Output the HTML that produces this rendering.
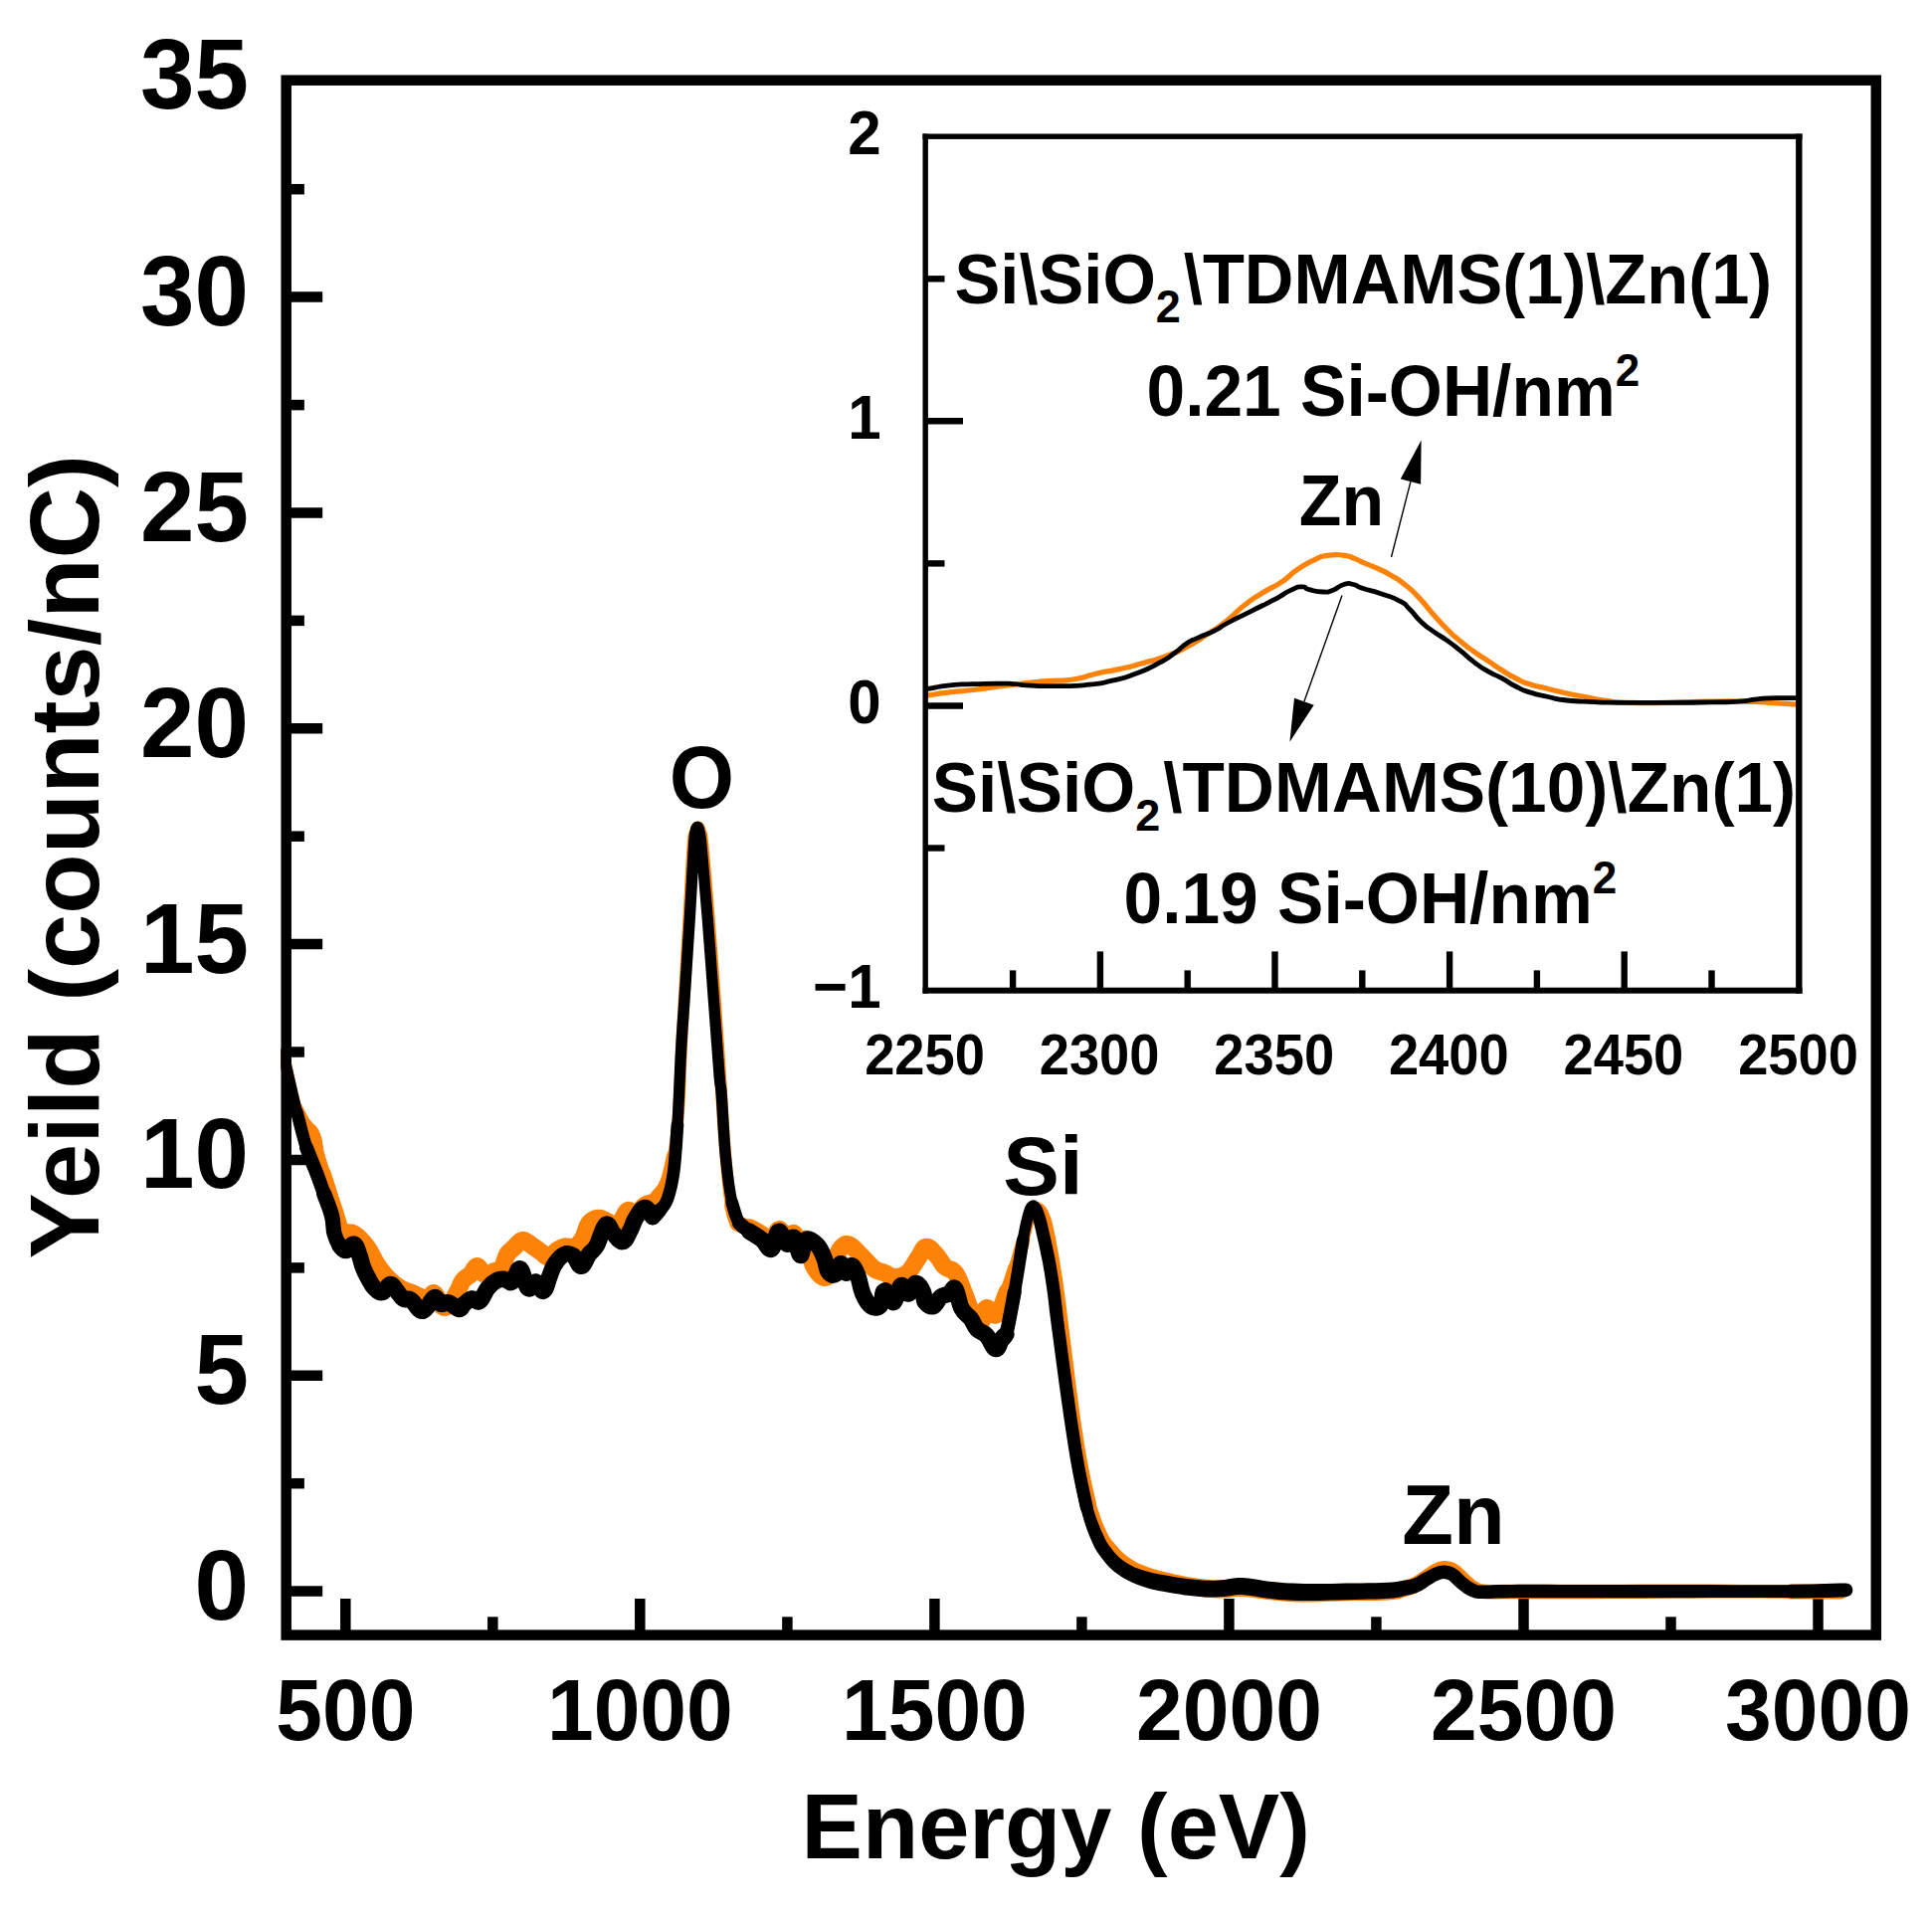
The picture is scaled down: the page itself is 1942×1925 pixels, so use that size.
<!DOCTYPE html>
<html lang="en"><head><meta charset="utf-8"><title>Yield vs Energy</title>
<style>
html,body{margin:0;padding:0;background:#fff;}
body{width:1942px;height:1925px;overflow:hidden;}
svg{display:block;}
text{font-family:"Liberation Sans",Arial,Helvetica,sans-serif;font-weight:bold;fill:#000;}
</style></head><body>
<svg width="1942" height="1925" viewBox="0 0 1942 1925">
<rect x="0" y="0" width="1942" height="1925" fill="#fff"/>
<g stroke="#000" stroke-width="10.5" fill="none">
<line x1="287.7" y1="1599.6" x2="324.2" y2="1599.6"/>
<line x1="287.7" y1="1382.8" x2="324.2" y2="1382.8"/>
<line x1="287.7" y1="1165.9" x2="324.2" y2="1165.9"/>
<line x1="287.7" y1="949.1" x2="324.2" y2="949.1"/>
<line x1="287.7" y1="732.3" x2="324.2" y2="732.3"/>
<line x1="287.7" y1="515.5" x2="324.2" y2="515.5"/>
<line x1="287.7" y1="298.6" x2="324.2" y2="298.6"/>
<line x1="287.7" y1="1491.2" x2="305.9" y2="1491.2"/>
<line x1="287.7" y1="1274.4" x2="305.9" y2="1274.4"/>
<line x1="287.7" y1="1057.5" x2="305.9" y2="1057.5"/>
<line x1="287.7" y1="840.7" x2="305.9" y2="840.7"/>
<line x1="287.7" y1="623.9" x2="305.9" y2="623.9"/>
<line x1="287.7" y1="407.1" x2="305.9" y2="407.1"/>
<line x1="287.7" y1="190.2" x2="305.9" y2="190.2"/>
<line x1="347.3" y1="1643.6" x2="347.3" y2="1607.0"/>
<line x1="643.3" y1="1643.6" x2="643.3" y2="1607.0"/>
<line x1="939.4" y1="1643.6" x2="939.4" y2="1607.0"/>
<line x1="1235.4" y1="1643.6" x2="1235.4" y2="1607.0"/>
<line x1="1531.5" y1="1643.6" x2="1531.5" y2="1607.0"/>
<line x1="1827.5" y1="1643.6" x2="1827.5" y2="1607.0"/>
<line x1="495.3" y1="1643.6" x2="495.3" y2="1625.3"/>
<line x1="791.4" y1="1643.6" x2="791.4" y2="1625.3"/>
<line x1="1087.4" y1="1643.6" x2="1087.4" y2="1625.3"/>
<line x1="1383.4" y1="1643.6" x2="1383.4" y2="1625.3"/>
<line x1="1679.5" y1="1643.6" x2="1679.5" y2="1625.3"/>
</g>
<clipPath id="mc"><rect x="282.4" y="80.7" width="1608.6" height="1562.9"/></clipPath>
<g fill="none" stroke-linejoin="round" stroke-linecap="round" clip-path="url(#mc)">
<path stroke="#FD8308" stroke-width="11.8" d="M285.0,1060.0C285.3,1061.4 284.0,1056.0 286.5,1066.8C289.0,1077.6 293.9,1101.8 297.5,1114.0C301.1,1126.2 301.8,1123.2 304.7,1127.8C307.6,1132.4 309.9,1133.5 312.2,1137.0C314.5,1140.5 314.7,1140.7 316.0,1145.3C317.3,1149.9 316.9,1153.1 318.6,1160.0C320.3,1166.9 322.5,1173.0 324.7,1180.0C326.9,1187.0 327.2,1188.0 329.5,1195.0C331.8,1202.0 332.8,1206.0 336.0,1215.0C339.2,1224.0 341.4,1235.2 345.3,1240.2C349.2,1245.2 351.0,1237.6 355.7,1240.2C360.4,1242.8 364.1,1247.0 368.8,1253.3C373.5,1259.6 375.0,1265.2 379.2,1271.5C383.4,1277.8 385.0,1279.9 389.7,1284.6C394.4,1289.3 397.5,1291.9 402.7,1295.0C407.9,1298.1 410.6,1298.2 415.8,1300.3C421.0,1302.4 424.6,1305.5 428.8,1305.5C433.0,1305.5 433.6,1298.7 436.7,1300.3C439.8,1301.9 441.4,1311.2 444.5,1313.3C447.6,1315.4 449.2,1313.8 452.3,1310.7C455.4,1307.6 457.6,1302.4 460.2,1297.7C462.8,1293.0 462.8,1290.6 465.4,1287.2C468.0,1283.8 470.3,1283.6 473.2,1280.7C476.1,1277.8 477.1,1272.8 479.7,1272.8C482.3,1272.8 482.9,1279.6 486.3,1280.7C489.7,1281.8 493.1,1279.4 496.7,1278.1C500.3,1276.8 501.9,1277.6 504.5,1274.2C507.1,1270.8 507.2,1265.3 509.8,1261.1C512.4,1256.9 514.5,1256.2 517.6,1253.3C520.7,1250.4 522.0,1247.0 525.4,1246.7C528.8,1246.4 530.9,1249.6 534.6,1252.0C538.3,1254.4 540.3,1256.2 543.7,1258.5C547.1,1260.8 548.4,1264.0 551.5,1263.7C554.6,1263.4 556.3,1259.3 559.4,1257.2C562.5,1255.1 563.6,1254.1 567.2,1253.3C570.8,1252.5 573.9,1254.9 577.6,1253.3C581.3,1251.7 582.6,1250.1 585.5,1245.4C588.4,1240.7 588.9,1234.0 592.0,1229.8C595.1,1225.6 597.7,1225.0 601.1,1224.5C604.5,1224.0 605.3,1225.6 609.0,1227.2C612.7,1228.8 616.0,1232.9 619.4,1232.4C622.8,1231.9 623.6,1227.6 626.0,1224.5C628.4,1221.4 628.3,1217.7 631.2,1216.7C634.1,1215.7 636.9,1220.3 640.3,1219.3C643.7,1218.3 645.0,1213.6 648.1,1211.5C651.2,1209.4 653.1,1211.0 656.0,1208.9C658.9,1206.8 659.6,1205.2 662.5,1201.0C665.4,1196.8 667.4,1195.8 670.3,1188.0C673.2,1180.2 674.5,1176.0 676.9,1161.9C679.3,1147.8 680.5,1139.5 682.1,1117.5C683.7,1095.5 683.8,1075.5 685.0,1052.0C686.2,1028.5 686.5,1026.4 688.0,1000.0C689.5,973.6 690.8,950.0 692.5,920.0C694.2,890.0 695.2,866.8 696.5,850.0C697.8,833.2 698.0,839.7 699.0,836.0C700.0,832.3 700.5,831.5 701.5,831.5C702.5,831.5 703.0,832.3 704.0,836.0C705.0,839.7 704.8,833.2 706.5,850.0C708.2,866.8 710.1,890.0 712.5,920.0C714.9,950.0 716.2,968.0 718.5,1000.0C720.8,1032.0 722.3,1054.0 724.0,1080.0C725.7,1106.0 725.6,1110.0 727.0,1130.0C728.4,1150.0 729.4,1163.6 731.0,1180.0C732.6,1196.4 733.0,1202.0 735.0,1212.0C737.0,1222.0 737.3,1225.6 741.0,1230.0C744.7,1234.4 748.4,1231.8 753.4,1234.0C758.4,1236.2 761.6,1237.8 766.0,1241.0C770.4,1244.2 772.1,1251.0 775.4,1250.0C778.7,1249.0 779.6,1237.0 782.7,1236.0C785.8,1235.0 787.9,1244.2 791.0,1245.0C794.1,1245.8 795.6,1238.0 798.3,1240.0C801.0,1242.0 802.3,1253.8 804.6,1255.0C806.9,1256.2 807.1,1242.5 809.8,1246.2C812.5,1249.9 814.0,1265.9 818.2,1273.4C822.4,1280.9 826.5,1285.1 830.7,1283.8C834.9,1282.5 836.2,1272.9 839.1,1267.1C842.0,1261.3 842.4,1257.7 845.3,1254.6C848.2,1251.5 849.5,1249.7 853.7,1251.4C857.9,1253.1 861.2,1258.1 866.2,1262.9C871.2,1267.7 874.1,1272.2 878.7,1275.5C883.3,1278.8 885.0,1277.9 889.2,1279.6C893.4,1281.3 895.0,1283.8 899.6,1283.8C904.2,1283.8 907.6,1283.4 912.2,1279.6C916.8,1275.8 918.8,1270.2 922.6,1265.0C926.4,1259.8 927.2,1254.1 931.0,1253.5C934.8,1252.9 937.6,1257.9 941.4,1261.9C945.2,1265.9 946.0,1269.9 949.8,1273.4C953.6,1276.9 956.4,1274.6 960.2,1279.6C964.0,1284.6 965.3,1290.5 968.6,1298.4C971.9,1306.3 973.6,1313.0 976.9,1319.3C980.2,1325.6 982.4,1330.6 985.3,1329.8C988.2,1329.0 988.2,1316.8 991.5,1315.1C994.8,1313.4 997.8,1324.7 1002.0,1321.4C1006.2,1318.1 1008.8,1307.6 1012.5,1298.4C1016.2,1289.2 1017.2,1285.2 1020.3,1275.5C1023.4,1265.8 1025.1,1259.9 1027.8,1250.0C1030.5,1240.1 1031.9,1232.7 1034.0,1226.0C1036.1,1219.3 1036.9,1218.7 1038.5,1216.5C1040.1,1214.3 1040.6,1214.8 1042.0,1215.0C1043.4,1215.2 1044.0,1215.3 1045.5,1217.5C1047.0,1219.7 1048.0,1221.5 1049.5,1226.0C1051.0,1230.5 1051.2,1231.2 1053.0,1240.0C1054.8,1248.8 1056.5,1258.0 1058.5,1270.0C1060.5,1282.0 1061.3,1287.6 1063.0,1300.0C1064.7,1312.4 1064.7,1313.6 1067.0,1332.0C1069.3,1350.4 1071.8,1371.2 1074.5,1392.0C1077.2,1412.8 1078.0,1419.4 1080.5,1436.0C1083.0,1452.6 1084.1,1459.8 1087.0,1475.0C1089.9,1490.2 1091.4,1498.8 1095.0,1512.0C1098.6,1525.2 1100.8,1531.8 1105.0,1541.0C1109.2,1550.2 1110.8,1551.7 1116.0,1558.0C1121.2,1564.3 1123.8,1567.4 1131.0,1572.5C1138.2,1577.6 1142.4,1579.8 1152.0,1583.5C1161.6,1587.2 1168.0,1588.5 1179.0,1591.0C1190.0,1593.5 1197.3,1594.7 1207.1,1596.0C1216.9,1597.3 1219.6,1597.5 1228.0,1597.5C1236.4,1597.5 1238.5,1595.6 1248.9,1596.0C1259.3,1596.4 1267.7,1598.4 1280.2,1599.5C1292.7,1600.6 1296.9,1601.3 1311.5,1601.5C1326.1,1601.7 1336.6,1600.8 1353.3,1600.5C1370.0,1600.2 1383.6,1600.7 1395.1,1600.0C1406.6,1599.3 1405.3,1598.5 1411.0,1597.0C1416.7,1595.5 1418.8,1594.9 1423.5,1592.5C1428.2,1590.1 1430.0,1587.9 1434.3,1585.0C1438.6,1582.1 1441.4,1579.7 1445.2,1578.0C1449.0,1576.3 1450.1,1576.2 1453.5,1576.5C1456.9,1576.8 1458.4,1577.1 1462.0,1579.5C1465.6,1581.9 1467.4,1585.0 1471.5,1588.5C1475.6,1592.0 1478.2,1594.7 1482.5,1597.0C1486.8,1599.3 1485.5,1599.4 1493.0,1600.0C1500.5,1600.6 1498.4,1600.0 1519.8,1600.0C1541.2,1600.0 1564.0,1600.1 1600.0,1600.0C1636.0,1599.9 1660.0,1599.5 1700.0,1599.5C1740.0,1599.5 1770.0,1599.9 1800.0,1600.0C1830.0,1600.1 1840.0,1600.0 1850.0,1600.0"/>
<path stroke="#FD8308" stroke-width="13.7" d="M297.5,1114.0C298.9,1116.8 301.8,1123.2 304.7,1127.8C307.6,1132.4 309.9,1133.5 312.2,1137.0C314.5,1140.5 314.7,1140.7 316.0,1145.3C317.3,1149.9 316.9,1153.1 318.6,1160.0C320.3,1166.9 322.5,1173.0 324.7,1180.0C326.9,1187.0 327.2,1188.0 329.5,1195.0C331.8,1202.0 332.8,1206.0 336.0,1215.0C339.2,1224.0 341.4,1235.2 345.3,1240.2C349.2,1245.2 351.0,1237.6 355.7,1240.2C360.4,1242.8 364.1,1247.0 368.8,1253.3C373.5,1259.6 375.0,1265.2 379.2,1271.5C383.4,1277.8 385.0,1279.9 389.7,1284.6C394.4,1289.3 397.5,1291.9 402.7,1295.0C407.9,1298.1 410.6,1298.2 415.8,1300.3C421.0,1302.4 424.6,1305.5 428.8,1305.5C433.0,1305.5 433.6,1298.7 436.7,1300.3C439.8,1301.9 441.4,1311.2 444.5,1313.3C447.6,1315.4 449.2,1313.8 452.3,1310.7C455.4,1307.6 457.6,1302.4 460.2,1297.7C462.8,1293.0 462.8,1290.6 465.4,1287.2C468.0,1283.8 470.3,1283.6 473.2,1280.7C476.1,1277.8 477.1,1272.8 479.7,1272.8C482.3,1272.8 482.9,1279.6 486.3,1280.7C489.7,1281.8 493.1,1279.4 496.7,1278.1C500.3,1276.8 501.9,1277.6 504.5,1274.2C507.1,1270.8 507.2,1265.3 509.8,1261.1C512.4,1256.9 514.5,1256.2 517.6,1253.3C520.7,1250.4 522.0,1247.0 525.4,1246.7C528.8,1246.4 530.9,1249.6 534.6,1252.0C538.3,1254.4 540.3,1256.2 543.7,1258.5C547.1,1260.8 548.4,1264.0 551.5,1263.7C554.6,1263.4 556.3,1259.3 559.4,1257.2C562.5,1255.1 563.6,1254.1 567.2,1253.3C570.8,1252.5 573.9,1254.9 577.6,1253.3C581.3,1251.7 582.6,1250.1 585.5,1245.4C588.4,1240.7 588.9,1234.0 592.0,1229.8C595.1,1225.6 597.7,1225.0 601.1,1224.5C604.5,1224.0 605.3,1225.6 609.0,1227.2C612.7,1228.8 616.0,1232.9 619.4,1232.4C622.8,1231.9 623.6,1227.6 626.0,1224.5C628.4,1221.4 628.3,1217.7 631.2,1216.7C634.1,1215.7 636.9,1220.3 640.3,1219.3C643.7,1218.3 645.0,1213.6 648.1,1211.5C651.2,1209.4 653.1,1211.0 656.0,1208.9C658.9,1206.8 659.6,1205.2 662.5,1201.0C665.4,1196.8 667.4,1195.8 670.3,1188.0C673.2,1180.2 675.6,1167.1 676.9,1161.9"/>
<path stroke="#FD8308" stroke-width="15.0" d="M312.2,1137.0C313.0,1138.7 314.7,1140.7 316.0,1145.3C317.3,1149.9 316.9,1153.1 318.6,1160.0C320.3,1166.9 322.5,1173.0 324.7,1180.0C326.9,1187.0 327.2,1188.0 329.5,1195.0C331.8,1202.0 332.8,1206.0 336.0,1215.0C339.2,1224.0 341.4,1235.2 345.3,1240.2C349.2,1245.2 351.0,1237.6 355.7,1240.2C360.4,1242.8 364.1,1247.0 368.8,1253.3C373.5,1259.6 375.0,1265.2 379.2,1271.5C383.4,1277.8 385.0,1279.9 389.7,1284.6C394.4,1289.3 397.5,1291.9 402.7,1295.0C407.9,1298.1 410.6,1298.2 415.8,1300.3C421.0,1302.4 424.6,1305.5 428.8,1305.5C433.0,1305.5 433.6,1298.7 436.7,1300.3C439.8,1301.9 441.4,1311.2 444.5,1313.3C447.6,1315.4 449.2,1313.8 452.3,1310.7C455.4,1307.6 457.6,1302.4 460.2,1297.7C462.8,1293.0 462.8,1290.6 465.4,1287.2C468.0,1283.8 470.3,1283.6 473.2,1280.7C476.1,1277.8 477.1,1272.8 479.7,1272.8C482.3,1272.8 482.9,1279.6 486.3,1280.7C489.7,1281.8 493.1,1279.4 496.7,1278.1C500.3,1276.8 501.9,1277.6 504.5,1274.2C507.1,1270.8 507.2,1265.3 509.8,1261.1C512.4,1256.9 514.5,1256.2 517.6,1253.3C520.7,1250.4 522.0,1247.0 525.4,1246.7C528.8,1246.4 530.9,1249.6 534.6,1252.0C538.3,1254.4 540.3,1256.2 543.7,1258.5C547.1,1260.8 548.4,1264.0 551.5,1263.7C554.6,1263.4 556.3,1259.3 559.4,1257.2C562.5,1255.1 563.6,1254.1 567.2,1253.3C570.8,1252.5 573.9,1254.9 577.6,1253.3C581.3,1251.7 582.6,1250.1 585.5,1245.4C588.4,1240.7 588.9,1234.0 592.0,1229.8C595.1,1225.6 597.7,1225.0 601.1,1224.5C604.5,1224.0 605.3,1225.6 609.0,1227.2C612.7,1228.8 616.0,1232.9 619.4,1232.4C622.8,1231.9 623.6,1227.6 626.0,1224.5C628.4,1221.4 628.3,1217.7 631.2,1216.7C634.1,1215.7 636.9,1220.3 640.3,1219.3C643.7,1218.3 645.0,1213.6 648.1,1211.5C651.2,1209.4 653.1,1211.0 656.0,1208.9C658.9,1206.8 661.2,1202.6 662.5,1201.0"/>
<path stroke="#FD8308" stroke-width="16.3" d="M324.7,1180.0C325.7,1183.0 327.2,1188.0 329.5,1195.0C331.8,1202.0 332.8,1206.0 336.0,1215.0C339.2,1224.0 341.4,1235.2 345.3,1240.2C349.2,1245.2 351.0,1237.6 355.7,1240.2C360.4,1242.8 364.1,1247.0 368.8,1253.3C373.5,1259.6 375.0,1265.2 379.2,1271.5C383.4,1277.8 385.0,1279.9 389.7,1284.6C394.4,1289.3 397.5,1291.9 402.7,1295.0C407.9,1298.1 410.6,1298.2 415.8,1300.3C421.0,1302.4 424.6,1305.5 428.8,1305.5C433.0,1305.5 433.6,1298.7 436.7,1300.3C439.8,1301.9 441.4,1311.2 444.5,1313.3C447.6,1315.4 449.2,1313.8 452.3,1310.7C455.4,1307.6 457.6,1302.4 460.2,1297.7C462.8,1293.0 462.8,1290.6 465.4,1287.2C468.0,1283.8 470.3,1283.6 473.2,1280.7C476.1,1277.8 477.1,1272.8 479.7,1272.8C482.3,1272.8 482.9,1279.6 486.3,1280.7C489.7,1281.8 493.1,1279.4 496.7,1278.1C500.3,1276.8 501.9,1277.6 504.5,1274.2C507.1,1270.8 507.2,1265.3 509.8,1261.1C512.4,1256.9 514.5,1256.2 517.6,1253.3C520.7,1250.4 522.0,1247.0 525.4,1246.7C528.8,1246.4 530.9,1249.6 534.6,1252.0C538.3,1254.4 540.3,1256.2 543.7,1258.5C547.1,1260.8 548.4,1264.0 551.5,1263.7C554.6,1263.4 556.3,1259.3 559.4,1257.2C562.5,1255.1 563.6,1254.1 567.2,1253.3C570.8,1252.5 573.9,1254.9 577.6,1253.3C581.3,1251.7 582.6,1250.1 585.5,1245.4C588.4,1240.7 588.9,1234.0 592.0,1229.8C595.1,1225.6 597.7,1225.0 601.1,1224.5C604.5,1224.0 605.3,1225.6 609.0,1227.2C612.7,1228.8 616.0,1232.9 619.4,1232.4C622.8,1231.9 623.6,1227.6 626.0,1224.5C628.4,1221.4 628.3,1217.7 631.2,1216.7C634.1,1215.7 636.9,1220.3 640.3,1219.3C643.7,1218.3 645.0,1213.6 648.1,1211.5C651.2,1209.4 654.4,1209.4 656.0,1208.9"/>
<path stroke="#FD8308" stroke-width="17.6" d="M345.3,1240.2C347.4,1240.2 351.0,1237.6 355.7,1240.2C360.4,1242.8 364.1,1247.0 368.8,1253.3C373.5,1259.6 375.0,1265.2 379.2,1271.5C383.4,1277.8 385.0,1279.9 389.7,1284.6C394.4,1289.3 397.5,1291.9 402.7,1295.0C407.9,1298.1 410.6,1298.2 415.8,1300.3C421.0,1302.4 424.6,1305.5 428.8,1305.5C433.0,1305.5 433.6,1298.7 436.7,1300.3C439.8,1301.9 441.4,1311.2 444.5,1313.3C447.6,1315.4 449.2,1313.8 452.3,1310.7C455.4,1307.6 457.6,1302.4 460.2,1297.7C462.8,1293.0 462.8,1290.6 465.4,1287.2C468.0,1283.8 470.3,1283.6 473.2,1280.7C476.1,1277.8 477.1,1272.8 479.7,1272.8C482.3,1272.8 482.9,1279.6 486.3,1280.7C489.7,1281.8 493.1,1279.4 496.7,1278.1C500.3,1276.8 501.9,1277.6 504.5,1274.2C507.1,1270.8 507.2,1265.3 509.8,1261.1C512.4,1256.9 514.5,1256.2 517.6,1253.3C520.7,1250.4 522.0,1247.0 525.4,1246.7C528.8,1246.4 530.9,1249.6 534.6,1252.0C538.3,1254.4 540.3,1256.2 543.7,1258.5C547.1,1260.8 548.4,1264.0 551.5,1263.7C554.6,1263.4 556.3,1259.3 559.4,1257.2C562.5,1255.1 563.6,1254.1 567.2,1253.3C570.8,1252.5 573.9,1254.9 577.6,1253.3C581.3,1251.7 582.6,1250.1 585.5,1245.4C588.4,1240.7 588.9,1234.0 592.0,1229.8C595.1,1225.6 597.7,1225.0 601.1,1224.5C604.5,1224.0 605.3,1225.6 609.0,1227.2C612.7,1228.8 616.0,1232.9 619.4,1232.4C622.8,1231.9 623.6,1227.6 626.0,1224.5C628.4,1221.4 628.3,1217.7 631.2,1216.7C634.1,1215.7 636.9,1220.3 640.3,1219.3C643.7,1218.3 645.0,1213.6 648.1,1211.5C651.2,1209.4 654.4,1209.4 656.0,1208.9"/>
<path stroke="#FD8308" stroke-width="13.7" d="M735.0,1212.0C736.2,1215.6 737.3,1225.6 741.0,1230.0C744.7,1234.4 748.4,1231.8 753.4,1234.0C758.4,1236.2 761.6,1237.8 766.0,1241.0C770.4,1244.2 772.1,1251.0 775.4,1250.0C778.7,1249.0 779.6,1237.0 782.7,1236.0C785.8,1235.0 787.9,1244.2 791.0,1245.0C794.1,1245.8 795.6,1238.0 798.3,1240.0C801.0,1242.0 802.3,1253.8 804.6,1255.0C806.9,1256.2 807.1,1242.5 809.8,1246.2C812.5,1249.9 814.0,1265.9 818.2,1273.4C822.4,1280.9 826.5,1285.1 830.7,1283.8C834.9,1282.5 836.2,1272.9 839.1,1267.1C842.0,1261.3 842.4,1257.7 845.3,1254.6C848.2,1251.5 849.5,1249.7 853.7,1251.4C857.9,1253.1 861.2,1258.1 866.2,1262.9C871.2,1267.7 874.1,1272.2 878.7,1275.5C883.3,1278.8 885.0,1277.9 889.2,1279.6C893.4,1281.3 895.0,1283.8 899.6,1283.8C904.2,1283.8 907.6,1283.4 912.2,1279.6C916.8,1275.8 918.8,1270.2 922.6,1265.0C926.4,1259.8 927.2,1254.1 931.0,1253.5C934.8,1252.9 937.6,1257.9 941.4,1261.9C945.2,1265.9 946.0,1269.9 949.8,1273.4C953.6,1276.9 956.4,1274.6 960.2,1279.6C964.0,1284.6 965.3,1290.5 968.6,1298.4C971.9,1306.3 973.6,1313.0 976.9,1319.3C980.2,1325.6 982.4,1330.6 985.3,1329.8C988.2,1329.0 988.2,1316.8 991.5,1315.1C994.8,1313.4 997.8,1324.7 1002.0,1321.4C1006.2,1318.1 1008.8,1307.6 1012.5,1298.4C1016.2,1289.2 1017.2,1285.2 1020.3,1275.5C1023.4,1265.8 1026.3,1255.1 1027.8,1250.0"/>
<path stroke="#FD8308" stroke-width="15.0" d="M741.0,1230.0C743.5,1230.8 748.4,1231.8 753.4,1234.0C758.4,1236.2 761.6,1237.8 766.0,1241.0C770.4,1244.2 772.1,1251.0 775.4,1250.0C778.7,1249.0 779.6,1237.0 782.7,1236.0C785.8,1235.0 787.9,1244.2 791.0,1245.0C794.1,1245.8 795.6,1238.0 798.3,1240.0C801.0,1242.0 802.3,1253.8 804.6,1255.0C806.9,1256.2 807.1,1242.5 809.8,1246.2C812.5,1249.9 814.0,1265.9 818.2,1273.4C822.4,1280.9 826.5,1285.1 830.7,1283.8C834.9,1282.5 836.2,1272.9 839.1,1267.1C842.0,1261.3 842.4,1257.7 845.3,1254.6C848.2,1251.5 849.5,1249.7 853.7,1251.4C857.9,1253.1 861.2,1258.1 866.2,1262.9C871.2,1267.7 874.1,1272.2 878.7,1275.5C883.3,1278.8 885.0,1277.9 889.2,1279.6C893.4,1281.3 895.0,1283.8 899.6,1283.8C904.2,1283.8 907.6,1283.4 912.2,1279.6C916.8,1275.8 918.8,1270.2 922.6,1265.0C926.4,1259.8 927.2,1254.1 931.0,1253.5C934.8,1252.9 937.6,1257.9 941.4,1261.9C945.2,1265.9 946.0,1269.9 949.8,1273.4C953.6,1276.9 956.4,1274.6 960.2,1279.6C964.0,1284.6 965.3,1290.5 968.6,1298.4C971.9,1306.3 973.6,1313.0 976.9,1319.3C980.2,1325.6 982.4,1330.6 985.3,1329.8C988.2,1329.0 988.2,1316.8 991.5,1315.1C994.8,1313.4 997.8,1324.7 1002.0,1321.4C1006.2,1318.1 1008.8,1307.6 1012.5,1298.4C1016.2,1289.2 1018.7,1280.1 1020.3,1275.5"/>
<path stroke="#FD8308" stroke-width="16.3" d="M753.4,1234.0C755.9,1235.4 761.6,1237.8 766.0,1241.0C770.4,1244.2 772.1,1251.0 775.4,1250.0C778.7,1249.0 779.6,1237.0 782.7,1236.0C785.8,1235.0 787.9,1244.2 791.0,1245.0C794.1,1245.8 795.6,1238.0 798.3,1240.0C801.0,1242.0 802.3,1253.8 804.6,1255.0C806.9,1256.2 807.1,1242.5 809.8,1246.2C812.5,1249.9 814.0,1265.9 818.2,1273.4C822.4,1280.9 826.5,1285.1 830.7,1283.8C834.9,1282.5 836.2,1272.9 839.1,1267.1C842.0,1261.3 842.4,1257.7 845.3,1254.6C848.2,1251.5 849.5,1249.7 853.7,1251.4C857.9,1253.1 861.2,1258.1 866.2,1262.9C871.2,1267.7 874.1,1272.2 878.7,1275.5C883.3,1278.8 885.0,1277.9 889.2,1279.6C893.4,1281.3 895.0,1283.8 899.6,1283.8C904.2,1283.8 907.6,1283.4 912.2,1279.6C916.8,1275.8 918.8,1270.2 922.6,1265.0C926.4,1259.8 927.2,1254.1 931.0,1253.5C934.8,1252.9 937.6,1257.9 941.4,1261.9C945.2,1265.9 946.0,1269.9 949.8,1273.4C953.6,1276.9 956.4,1274.6 960.2,1279.6C964.0,1284.6 965.3,1290.5 968.6,1298.4C971.9,1306.3 973.6,1313.0 976.9,1319.3C980.2,1325.6 982.4,1330.6 985.3,1329.8C988.2,1329.0 988.2,1316.8 991.5,1315.1C994.8,1313.4 997.8,1324.7 1002.0,1321.4C1006.2,1318.1 1010.4,1303.0 1012.5,1298.4"/>
<path stroke="#FD8308" stroke-width="17.6" d="M753.4,1234.0C755.9,1235.4 761.6,1237.8 766.0,1241.0C770.4,1244.2 772.1,1251.0 775.4,1250.0C778.7,1249.0 779.6,1237.0 782.7,1236.0C785.8,1235.0 787.9,1244.2 791.0,1245.0C794.1,1245.8 795.6,1238.0 798.3,1240.0C801.0,1242.0 802.3,1253.8 804.6,1255.0C806.9,1256.2 807.1,1242.5 809.8,1246.2C812.5,1249.9 814.0,1265.9 818.2,1273.4C822.4,1280.9 826.5,1285.1 830.7,1283.8C834.9,1282.5 836.2,1272.9 839.1,1267.1C842.0,1261.3 842.4,1257.7 845.3,1254.6C848.2,1251.5 849.5,1249.7 853.7,1251.4C857.9,1253.1 861.2,1258.1 866.2,1262.9C871.2,1267.7 874.1,1272.2 878.7,1275.5C883.3,1278.8 885.0,1277.9 889.2,1279.6C893.4,1281.3 895.0,1283.8 899.6,1283.8C904.2,1283.8 907.6,1283.4 912.2,1279.6C916.8,1275.8 918.8,1270.2 922.6,1265.0C926.4,1259.8 927.2,1254.1 931.0,1253.5C934.8,1252.9 937.6,1257.9 941.4,1261.9C945.2,1265.9 946.0,1269.9 949.8,1273.4C953.6,1276.9 956.4,1274.6 960.2,1279.6C964.0,1284.6 965.3,1290.5 968.6,1298.4C971.9,1306.3 973.6,1313.0 976.9,1319.3C980.2,1325.6 982.4,1330.6 985.3,1329.8C988.2,1329.0 988.2,1316.8 991.5,1315.1C994.8,1313.4 997.8,1324.7 1002.0,1321.4C1006.2,1318.1 1010.4,1303.0 1012.5,1298.4"/>
<path stroke="#FD8308" stroke-width="14.0" d="M1042.0,1215.0C1042.7,1215.5 1044.0,1215.3 1045.5,1217.5C1047.0,1219.7 1048.0,1221.5 1049.5,1226.0C1051.0,1230.5 1051.2,1231.2 1053.0,1240.0C1054.8,1248.8 1056.5,1258.0 1058.5,1270.0C1060.5,1282.0 1061.3,1287.6 1063.0,1300.0C1064.7,1312.4 1064.7,1313.6 1067.0,1332.0C1069.3,1350.4 1071.8,1371.2 1074.5,1392.0C1077.2,1412.8 1078.0,1419.4 1080.5,1436.0C1083.0,1452.6 1084.1,1459.8 1087.0,1475.0C1089.9,1490.2 1093.4,1504.6 1095.0,1512.0"/>
<path stroke="#FD8308" stroke-width="14.8" d="M1800.0,1600.0C1810.0,1600.0 1840.0,1600.0 1850.0,1600.0"/>
<path fill="#FD8308" stroke="none" d="M1079.6,1469.1L1080.8,1476.2L1082.1,1483.3L1083.3,1489.7L1084.4,1495.6L1085.6,1501.4L1086.9,1507.3L1088.5,1513.8L1090.2,1520.0L1091.7,1525.4L1093.2,1530.3L1094.8,1534.8L1096.5,1539.3L1098.5,1544.0L1100.5,1548.2L1102.3,1551.7L1104.1,1554.7L1106.0,1557.3L1108.0,1559.8L1110.3,1562.7L1112.7,1565.7L1115.0,1568.5L1117.4,1571.1L1120.0,1573.6L1123.0,1576.2L1126.5,1578.8L1130.1,1581.4L1133.4,1583.6L1136.9,1585.7L1140.5,1587.5L1144.5,1589.4L1149.0,1591.3L1153.8,1593.2L1158.3,1594.8L1162.7,1596.2L1167.2,1597.3L1171.9,1598.4L1177.1,1599.6L1182.4,1600.8L1187.3,1601.8L1192.0,1602.6L1196.5,1603.4L1201.1,1604.1L1205.9,1604.8L1210.4,1605.4L1214.1,1605.8L1217.5,1606.1L1220.7,1606.3L1224.1,1606.4L1228.1,1606.4L1232.4,1606.3L1235.9,1605.9L1238.9,1605.5L1241.5,1605.1L1244.5,1604.9L1248.6,1605.0L1253.2,1605.3L1257.8,1605.8L1262.6,1606.4L1267.6,1607.1L1273.2,1607.9L1279.3,1608.5L1285.0,1609.0L1289.8,1609.5L1294.4,1609.9L1299.2,1610.2L1304.7,1610.4L1311.4,1610.5L1318.6,1610.5L1325.3,1610.3L1331.9,1610.1L1338.6,1609.8L1345.7,1609.5L1353.5,1609.3L1361.5,1609.1L1369.0,1609.1L1376.2,1609.0L1382.9,1609.0L1389.4,1608.8L1395.6,1608.5L1400.7,1608.1L1404.4,1607.6L1407.3,1606.9L1409.5,1606.2L1411.1,1605.6L1413.2,1604.9L1415.7,1604.1L1418.0,1603.4L1420.3,1602.6L1422.5,1601.7L1424.7,1600.7L1427.1,1599.4L1429.6,1597.9L1431.8,1596.4L1433.6,1595.0L1435.2,1593.7L1436.7,1592.5L1438.5,1591.1L1440.6,1589.6L1442.4,1588.2L1444.0,1587.0L1445.5,1586.1L1446.8,1585.3L1448.2,1584.6L1449.5,1584.0L1450.4,1583.7L1450.8,1583.6L1451.0,1583.6L1451.7,1583.6L1452.9,1583.7L1454.1,1583.8L1454.9,1584.0L1455.4,1584.1L1455.9,1584.3L1456.7,1584.7L1457.9,1585.5L1459.0,1586.3L1460.1,1587.3L1461.3,1588.6L1462.8,1590.2L1464.6,1592.0L1466.7,1593.9L1468.7,1595.6L1470.5,1597.2L1472.3,1598.8L1474.3,1600.4L1476.6,1601.9L1478.9,1603.3L1480.7,1604.3L1482.2,1605.1L1484.3,1606.0L1486.7,1606.6L1489.2,1606.9L1492.4,1607.2L1495.7,1607.4L1498.5,1607.5L1501.3,1607.5L1505.1,1607.4L1511.0,1607.3L1519.8,1607.2L1530.7,1607.2L1542.1,1607.2L1554.4,1607.2L1567.9,1607.2L1583.0,1607.2L1600.0,1607.2L1617.2,1607.1L1633.1,1607.0L1648.6,1606.9L1664.3,1606.7L1681.2,1606.6L1700.0,1606.6L1719.2,1606.5L1737.0,1606.5L1753.7,1606.5L1769.6,1606.6L1784.9,1606.8L1800.0,1606.8L1813.4,1606.9L1824.1,1606.9L1832.5,1606.9L1839.3,1606.9L1844.9,1606.9L1844.9,1593.1L1839.2,1593.1L1832.5,1593.2L1824.1,1593.2L1813.4,1593.2L1800.0,1593.2L1785.0,1593.1L1769.7,1593.0L1753.8,1592.9L1737.1,1592.7L1719.2,1592.5L1700.0,1592.4L1681.2,1592.4L1664.3,1592.5L1648.5,1592.6L1633.0,1592.7L1617.1,1592.8L1600.0,1592.8L1583.0,1592.8L1567.9,1592.8L1554.4,1592.8L1542.1,1592.8L1530.7,1592.8L1519.8,1592.8L1510.8,1592.8L1504.9,1592.9L1501.0,1593.0L1498.5,1593.0L1496.4,1593.0L1493.6,1592.8L1490.7,1592.5L1489.2,1592.3L1488.8,1592.2L1488.7,1592.2L1487.8,1591.7L1486.1,1590.7L1484.4,1589.7L1482.9,1588.7L1481.5,1587.6L1480.0,1586.3L1478.2,1584.7L1476.3,1583.1L1474.7,1581.6L1473.3,1580.1L1471.8,1578.6L1470.2,1576.9L1468.3,1575.2L1466.1,1573.5L1464.0,1572.2L1462.0,1571.1L1459.9,1570.3L1457.9,1569.8L1456.0,1569.5L1454.1,1569.3L1452.3,1569.1L1450.4,1569.1L1448.3,1569.4L1446.2,1569.8L1444.3,1570.5L1442.2,1571.4L1439.9,1572.5L1437.8,1573.8L1435.8,1575.1L1434.0,1576.3L1432.1,1577.5L1430.1,1578.9L1427.9,1580.3L1426.0,1581.7L1424.4,1582.9L1423.0,1583.8L1421.6,1584.7L1419.9,1585.6L1418.0,1586.4L1416.4,1587.1L1415.0,1587.6L1413.4,1588.0L1411.4,1588.5L1408.8,1589.1L1406.2,1589.8L1404.4,1590.4L1403.2,1590.7L1401.8,1590.9L1399.1,1591.2L1394.6,1591.5L1388.9,1591.7L1382.8,1591.8L1376.1,1591.8L1369.0,1591.7L1361.3,1591.7L1353.1,1591.7L1345.2,1591.9L1338.0,1592.1L1331.3,1592.3L1324.9,1592.4L1318.4,1592.5L1311.6,1592.5L1305.3,1592.3L1300.1,1592.1L1295.7,1591.8L1291.4,1591.4L1286.7,1591.0L1281.1,1590.5L1275.3,1589.9L1270.0,1589.3L1265.0,1588.6L1259.9,1587.9L1254.7,1587.4L1249.2,1587.0L1244.1,1587.0L1239.9,1587.3L1236.4,1587.7L1233.7,1588.2L1231.1,1588.5L1227.9,1588.6L1224.4,1588.6L1221.4,1588.5L1218.7,1588.4L1215.9,1588.1L1212.5,1587.8L1208.3,1587.2L1203.6,1586.6L1199.3,1586.0L1195.0,1585.3L1190.7,1584.5L1186.1,1583.5L1180.9,1582.4L1175.8,1581.3L1171.3,1580.2L1167.2,1579.2L1163.3,1578.3L1159.3,1577.1L1155.0,1575.7L1150.8,1574.1L1147.3,1572.7L1144.3,1571.4L1141.6,1570.0L1138.7,1568.3L1135.5,1566.2L1132.5,1564.0L1130.1,1562.1L1128.1,1560.3L1126.2,1558.4L1124.1,1556.1L1121.7,1553.3L1119.4,1550.5L1117.5,1548.4L1116.1,1546.5L1114.8,1544.5L1113.3,1541.8L1111.5,1538.0L1109.6,1533.8L1107.9,1529.8L1106.4,1525.7L1104.9,1521.3L1103.2,1516.2L1101.5,1510.2L1099.8,1504.1L1098.4,1498.5L1097.1,1492.9L1095.9,1487.2L1094.6,1480.9L1093.2,1473.8L1091.8,1466.8Z"/>
<path stroke="#000" stroke-width="11.3" d="M285.0,1060.0C285.3,1061.4 283.8,1055.1 286.5,1066.8C289.2,1078.5 294.3,1101.2 298.6,1118.6C302.9,1136.0 304.0,1141.4 308.0,1153.7C312.0,1166.0 315.0,1170.7 318.5,1180.0C322.0,1189.3 322.7,1191.6 325.7,1200.0C328.7,1208.4 331.4,1214.0 333.5,1222.0C335.6,1230.0 334.4,1234.0 336.0,1240.0C337.6,1246.0 339.0,1248.6 341.4,1252.0C343.8,1255.4 345.0,1257.3 347.9,1257.0C350.8,1256.7 353.1,1249.8 355.7,1250.6C358.3,1251.4 359.2,1256.3 361.0,1261.0C362.8,1265.7 363.1,1269.3 364.9,1274.0C366.7,1278.7 367.7,1280.4 370.0,1284.6C372.3,1288.8 373.7,1292.1 376.6,1295.0C379.5,1297.9 381.3,1299.8 384.4,1299.0C387.5,1298.2 389.4,1291.3 392.3,1291.0C395.2,1290.7 396.2,1294.7 398.8,1297.6C401.4,1300.5 402.4,1303.7 405.3,1305.5C408.2,1307.3 409.8,1304.5 413.2,1306.8C416.6,1309.1 419.2,1315.6 422.3,1317.2C425.4,1318.8 425.9,1317.2 428.8,1314.6C431.7,1312.0 433.8,1305.0 436.7,1304.2C439.6,1303.4 440.3,1309.7 443.2,1310.7C446.1,1311.7 447.3,1308.4 451.0,1309.4C454.7,1310.4 458.4,1315.6 461.5,1315.9C464.6,1316.2 464.1,1312.8 466.7,1310.7C469.3,1308.6 471.4,1306.0 474.5,1305.5C477.6,1305.0 479.2,1310.1 482.3,1308.0C485.4,1305.9 486.8,1299.2 490.2,1295.0C493.6,1290.8 495.9,1289.0 499.3,1287.2C502.7,1285.4 504.1,1285.6 507.2,1285.9C510.3,1286.2 511.9,1290.6 515.0,1288.5C518.1,1286.4 519.7,1274.2 522.8,1275.5C525.9,1276.8 527.6,1292.4 530.7,1295.0C533.8,1297.6 535.4,1288.0 538.5,1288.5C541.6,1289.0 543.4,1298.9 546.3,1297.6C549.2,1296.3 550.5,1287.5 552.8,1282.0C555.1,1276.5 555.1,1274.4 558.0,1270.2C560.9,1266.0 563.5,1262.6 567.2,1261.0C570.9,1259.4 572.9,1260.0 576.3,1262.4C579.7,1264.8 581.1,1273.1 584.2,1272.8C587.3,1272.5 588.9,1265.2 592.0,1261.0C595.1,1256.8 596.4,1258.0 599.8,1252.0C603.2,1246.0 605.6,1233.4 609.0,1231.0C612.4,1228.6 613.4,1236.8 616.8,1240.2C620.2,1243.6 622.6,1248.8 626.0,1248.0C629.4,1247.2 631.2,1241.0 633.8,1236.3C636.4,1231.6 636.1,1229.0 639.0,1224.5C641.9,1220.0 644.7,1214.3 648.1,1214.0C651.5,1213.7 652.9,1222.8 656.0,1223.2C659.1,1223.6 660.8,1219.6 663.8,1216.0C666.8,1212.4 668.3,1212.7 671.0,1205.0C673.7,1197.3 675.2,1192.4 677.2,1177.5C679.2,1162.6 679.5,1155.6 681.0,1130.5C682.5,1105.4 683.3,1078.1 684.8,1052.0C686.3,1025.9 686.6,1026.4 688.3,1000.0C690.0,973.6 691.7,950.0 693.5,920.0C695.3,890.0 696.4,866.8 697.5,850.0C698.6,833.2 698.3,839.7 699.0,836.0C699.7,832.3 700.2,831.5 701.0,831.5C701.8,831.5 702.2,832.3 703.0,836.0C703.8,839.7 703.4,833.2 705.0,850.0C706.6,866.8 708.6,890.0 711.0,920.0C713.4,950.0 714.6,968.0 717.0,1000.0C719.4,1032.0 721.4,1060.0 723.0,1080.0C724.6,1100.0 723.9,1083.5 725.2,1100.0C726.5,1116.5 727.3,1141.0 729.4,1162.7C731.5,1184.4 733.0,1195.2 735.7,1208.6C738.4,1222.0 739.5,1223.6 743.0,1229.5C746.5,1235.4 748.8,1234.6 753.4,1237.9C758.0,1241.2 761.6,1242.7 766.0,1246.2C770.4,1249.7 772.1,1257.3 775.4,1255.6C778.7,1253.9 779.6,1238.9 782.7,1237.9C785.8,1236.9 787.9,1249.2 791.0,1250.4C794.1,1251.6 795.6,1241.8 798.3,1244.1C801.0,1246.4 802.3,1261.5 804.6,1261.9C806.9,1262.3 806.5,1248.3 809.8,1246.2C813.1,1244.1 817.5,1247.6 821.3,1251.4C825.1,1255.2 826.3,1259.6 828.6,1265.0C830.9,1270.4 830.5,1275.5 832.8,1278.6C835.1,1281.7 837.6,1282.4 840.1,1280.7C842.6,1279.0 843.2,1270.4 845.3,1270.2C847.4,1270.0 848.4,1279.2 850.5,1279.6C852.6,1280.0 853.5,1271.9 855.8,1272.3C858.1,1272.7 859.7,1276.1 862.0,1281.7C864.3,1287.3 864.6,1294.2 867.3,1300.5C870.0,1306.8 872.1,1310.7 875.6,1313.0C879.1,1315.3 882.5,1314.9 885.0,1312.0C887.5,1309.1 886.4,1300.7 888.1,1298.4C889.8,1296.1 891.3,1298.4 893.4,1300.5C895.5,1302.6 896.1,1310.6 898.6,1308.9C901.1,1307.2 903.0,1293.9 905.9,1292.2C908.8,1290.5 910.3,1300.9 913.2,1300.5C916.1,1300.1 917.6,1290.4 920.5,1290.0C923.4,1289.6 925.9,1294.6 927.8,1298.4C929.7,1302.2 927.8,1306.0 929.9,1308.9C932.0,1311.8 935.2,1314.0 938.3,1313.0C941.4,1312.0 942.5,1306.2 945.6,1303.7C948.7,1301.2 951.1,1302.2 954.0,1300.5C956.9,1298.8 957.7,1292.4 960.2,1295.3C962.7,1298.2 963.4,1309.0 966.5,1315.1C969.6,1321.2 972.8,1321.4 975.9,1325.6C979.0,1329.8 979.0,1332.7 982.1,1336.0C985.2,1339.3 987.7,1338.3 991.5,1342.3C995.3,1346.3 997.8,1355.3 1000.9,1355.9C1004.0,1356.5 1005.1,1348.3 1007.2,1345.4C1009.3,1342.5 1008.9,1350.7 1011.4,1341.3C1013.9,1331.9 1016.4,1317.4 1019.8,1298.4C1023.2,1279.4 1025.6,1261.5 1028.3,1246.2C1031.0,1230.9 1031.7,1228.7 1033.5,1222.0C1035.3,1215.3 1035.9,1213.7 1037.5,1212.5C1039.1,1211.3 1039.8,1212.6 1041.5,1216.0C1043.2,1219.4 1043.4,1219.3 1045.9,1229.5C1048.4,1239.7 1051.6,1253.6 1054.2,1267.1C1056.8,1280.6 1057.2,1284.4 1059.0,1297.0C1060.8,1309.6 1060.5,1311.0 1063.0,1330.0C1065.5,1349.0 1068.4,1370.8 1071.3,1392.0C1074.2,1413.2 1075.1,1419.4 1077.6,1436.0C1080.1,1452.6 1081.0,1459.2 1083.9,1475.0C1086.8,1490.8 1088.4,1501.0 1092.2,1515.0C1096.0,1529.0 1098.5,1535.5 1102.7,1545.0C1106.9,1554.5 1108.1,1556.2 1113.1,1562.5C1118.1,1568.8 1120.6,1571.7 1127.7,1576.5C1134.8,1581.3 1139.0,1583.3 1148.6,1586.5C1158.2,1589.7 1164.1,1590.6 1175.8,1592.6C1187.5,1594.6 1196.7,1595.9 1207.1,1596.7C1217.5,1597.5 1219.6,1597.1 1228.0,1596.7C1236.4,1596.3 1238.5,1594.2 1248.9,1594.6C1259.3,1595.0 1267.7,1597.6 1280.2,1598.8C1292.7,1600.0 1296.9,1600.3 1311.5,1600.5C1326.1,1600.7 1336.6,1600.2 1353.3,1599.9C1370.0,1599.6 1383.6,1599.5 1395.1,1598.8C1406.6,1598.1 1405.3,1597.6 1411.0,1596.5C1416.7,1595.4 1418.8,1595.3 1423.5,1593.4C1428.2,1591.5 1430.0,1589.5 1434.3,1587.1C1438.6,1584.7 1441.5,1582.8 1445.2,1581.5C1448.9,1580.2 1449.9,1580.1 1453.0,1580.5C1456.1,1580.9 1457.3,1581.0 1460.7,1583.3C1464.1,1585.6 1465.9,1588.7 1470.0,1591.8C1474.1,1594.9 1476.6,1597.1 1481.0,1598.8C1485.4,1600.5 1484.0,1600.1 1491.8,1600.3C1499.6,1600.5 1498.2,1599.7 1519.8,1599.6C1541.4,1599.5 1564.0,1599.6 1600.0,1599.6C1636.0,1599.6 1660.0,1599.6 1700.0,1599.6C1740.0,1599.6 1773.0,1599.7 1800.0,1599.6C1827.0,1599.5 1823.9,1599.3 1835.0,1599.0C1846.1,1598.7 1851.4,1598.4 1855.5,1598.3"/>
<path stroke="#000" stroke-width="12.7" d="M298.6,1118.6C300.5,1125.6 304.0,1141.4 308.0,1153.7C312.0,1166.0 315.0,1170.7 318.5,1180.0C322.0,1189.3 322.7,1191.6 325.7,1200.0C328.7,1208.4 331.4,1214.0 333.5,1222.0C335.6,1230.0 334.4,1234.0 336.0,1240.0C337.6,1246.0 339.0,1248.6 341.4,1252.0C343.8,1255.4 345.0,1257.3 347.9,1257.0C350.8,1256.7 353.1,1249.8 355.7,1250.6C358.3,1251.4 359.2,1256.3 361.0,1261.0C362.8,1265.7 363.1,1269.3 364.9,1274.0C366.7,1278.7 367.7,1280.4 370.0,1284.6C372.3,1288.8 373.7,1292.1 376.6,1295.0C379.5,1297.9 381.3,1299.8 384.4,1299.0C387.5,1298.2 389.4,1291.3 392.3,1291.0C395.2,1290.7 396.2,1294.7 398.8,1297.6C401.4,1300.5 402.4,1303.7 405.3,1305.5C408.2,1307.3 409.8,1304.5 413.2,1306.8C416.6,1309.1 419.2,1315.6 422.3,1317.2C425.4,1318.8 425.9,1317.2 428.8,1314.6C431.7,1312.0 433.8,1305.0 436.7,1304.2C439.6,1303.4 440.3,1309.7 443.2,1310.7C446.1,1311.7 447.3,1308.4 451.0,1309.4C454.7,1310.4 458.4,1315.6 461.5,1315.9C464.6,1316.2 464.1,1312.8 466.7,1310.7C469.3,1308.6 471.4,1306.0 474.5,1305.5C477.6,1305.0 479.2,1310.1 482.3,1308.0C485.4,1305.9 486.8,1299.2 490.2,1295.0C493.6,1290.8 495.9,1289.0 499.3,1287.2C502.7,1285.4 504.1,1285.6 507.2,1285.9C510.3,1286.2 511.9,1290.6 515.0,1288.5C518.1,1286.4 519.7,1274.2 522.8,1275.5C525.9,1276.8 527.6,1292.4 530.7,1295.0C533.8,1297.6 535.4,1288.0 538.5,1288.5C541.6,1289.0 543.4,1298.9 546.3,1297.6C549.2,1296.3 550.5,1287.5 552.8,1282.0C555.1,1276.5 555.1,1274.4 558.0,1270.2C560.9,1266.0 563.5,1262.6 567.2,1261.0C570.9,1259.4 572.9,1260.0 576.3,1262.4C579.7,1264.8 581.1,1273.1 584.2,1272.8C587.3,1272.5 588.9,1265.2 592.0,1261.0C595.1,1256.8 596.4,1258.0 599.8,1252.0C603.2,1246.0 605.6,1233.4 609.0,1231.0C612.4,1228.6 613.4,1236.8 616.8,1240.2C620.2,1243.6 622.6,1248.8 626.0,1248.0C629.4,1247.2 631.2,1241.0 633.8,1236.3C636.4,1231.6 636.1,1229.0 639.0,1224.5C641.9,1220.0 644.7,1214.3 648.1,1214.0C651.5,1213.7 652.9,1222.8 656.0,1223.2C659.1,1223.6 660.8,1219.6 663.8,1216.0C666.8,1212.4 668.3,1212.7 671.0,1205.0C673.7,1197.3 675.2,1192.4 677.2,1177.5C679.2,1162.6 680.2,1139.9 681.0,1130.5"/>
<path stroke="#000" stroke-width="14.0" d="M308.0,1153.7C310.1,1159.0 315.0,1170.7 318.5,1180.0C322.0,1189.3 322.7,1191.6 325.7,1200.0C328.7,1208.4 331.4,1214.0 333.5,1222.0C335.6,1230.0 334.4,1234.0 336.0,1240.0C337.6,1246.0 339.0,1248.6 341.4,1252.0C343.8,1255.4 345.0,1257.3 347.9,1257.0C350.8,1256.7 353.1,1249.8 355.7,1250.6C358.3,1251.4 359.2,1256.3 361.0,1261.0C362.8,1265.7 363.1,1269.3 364.9,1274.0C366.7,1278.7 367.7,1280.4 370.0,1284.6C372.3,1288.8 373.7,1292.1 376.6,1295.0C379.5,1297.9 381.3,1299.8 384.4,1299.0C387.5,1298.2 389.4,1291.3 392.3,1291.0C395.2,1290.7 396.2,1294.7 398.8,1297.6C401.4,1300.5 402.4,1303.7 405.3,1305.5C408.2,1307.3 409.8,1304.5 413.2,1306.8C416.6,1309.1 419.2,1315.6 422.3,1317.2C425.4,1318.8 425.9,1317.2 428.8,1314.6C431.7,1312.0 433.8,1305.0 436.7,1304.2C439.6,1303.4 440.3,1309.7 443.2,1310.7C446.1,1311.7 447.3,1308.4 451.0,1309.4C454.7,1310.4 458.4,1315.6 461.5,1315.9C464.6,1316.2 464.1,1312.8 466.7,1310.7C469.3,1308.6 471.4,1306.0 474.5,1305.5C477.6,1305.0 479.2,1310.1 482.3,1308.0C485.4,1305.9 486.8,1299.2 490.2,1295.0C493.6,1290.8 495.9,1289.0 499.3,1287.2C502.7,1285.4 504.1,1285.6 507.2,1285.9C510.3,1286.2 511.9,1290.6 515.0,1288.5C518.1,1286.4 519.7,1274.2 522.8,1275.5C525.9,1276.8 527.6,1292.4 530.7,1295.0C533.8,1297.6 535.4,1288.0 538.5,1288.5C541.6,1289.0 543.4,1298.9 546.3,1297.6C549.2,1296.3 550.5,1287.5 552.8,1282.0C555.1,1276.5 555.1,1274.4 558.0,1270.2C560.9,1266.0 563.5,1262.6 567.2,1261.0C570.9,1259.4 572.9,1260.0 576.3,1262.4C579.7,1264.8 581.1,1273.1 584.2,1272.8C587.3,1272.5 588.9,1265.2 592.0,1261.0C595.1,1256.8 596.4,1258.0 599.8,1252.0C603.2,1246.0 605.6,1233.4 609.0,1231.0C612.4,1228.6 613.4,1236.8 616.8,1240.2C620.2,1243.6 622.6,1248.8 626.0,1248.0C629.4,1247.2 631.2,1241.0 633.8,1236.3C636.4,1231.6 636.1,1229.0 639.0,1224.5C641.9,1220.0 644.7,1214.3 648.1,1214.0C651.5,1213.7 652.9,1222.8 656.0,1223.2C659.1,1223.6 662.2,1217.4 663.8,1216.0"/>
<path stroke="#000" stroke-width="15.3" d="M325.7,1200.0C327.3,1204.4 331.4,1214.0 333.5,1222.0C335.6,1230.0 334.4,1234.0 336.0,1240.0C337.6,1246.0 339.0,1248.6 341.4,1252.0C343.8,1255.4 345.0,1257.3 347.9,1257.0C350.8,1256.7 353.1,1249.8 355.7,1250.6C358.3,1251.4 359.2,1256.3 361.0,1261.0C362.8,1265.7 363.1,1269.3 364.9,1274.0C366.7,1278.7 367.7,1280.4 370.0,1284.6C372.3,1288.8 373.7,1292.1 376.6,1295.0C379.5,1297.9 381.3,1299.8 384.4,1299.0C387.5,1298.2 389.4,1291.3 392.3,1291.0C395.2,1290.7 396.2,1294.7 398.8,1297.6C401.4,1300.5 402.4,1303.7 405.3,1305.5C408.2,1307.3 409.8,1304.5 413.2,1306.8C416.6,1309.1 419.2,1315.6 422.3,1317.2C425.4,1318.8 425.9,1317.2 428.8,1314.6C431.7,1312.0 433.8,1305.0 436.7,1304.2C439.6,1303.4 440.3,1309.7 443.2,1310.7C446.1,1311.7 447.3,1308.4 451.0,1309.4C454.7,1310.4 458.4,1315.6 461.5,1315.9C464.6,1316.2 464.1,1312.8 466.7,1310.7C469.3,1308.6 471.4,1306.0 474.5,1305.5C477.6,1305.0 479.2,1310.1 482.3,1308.0C485.4,1305.9 486.8,1299.2 490.2,1295.0C493.6,1290.8 495.9,1289.0 499.3,1287.2C502.7,1285.4 504.1,1285.6 507.2,1285.9C510.3,1286.2 511.9,1290.6 515.0,1288.5C518.1,1286.4 519.7,1274.2 522.8,1275.5C525.9,1276.8 527.6,1292.4 530.7,1295.0C533.8,1297.6 535.4,1288.0 538.5,1288.5C541.6,1289.0 543.4,1298.9 546.3,1297.6C549.2,1296.3 550.5,1287.5 552.8,1282.0C555.1,1276.5 555.1,1274.4 558.0,1270.2C560.9,1266.0 563.5,1262.6 567.2,1261.0C570.9,1259.4 572.9,1260.0 576.3,1262.4C579.7,1264.8 581.1,1273.1 584.2,1272.8C587.3,1272.5 588.9,1265.2 592.0,1261.0C595.1,1256.8 596.4,1258.0 599.8,1252.0C603.2,1246.0 605.6,1233.4 609.0,1231.0C612.4,1228.6 613.4,1236.8 616.8,1240.2C620.2,1243.6 622.6,1248.8 626.0,1248.0C629.4,1247.2 631.2,1241.0 633.8,1236.3C636.4,1231.6 636.1,1229.0 639.0,1224.5C641.9,1220.0 644.7,1214.3 648.1,1214.0C651.5,1213.7 654.4,1221.4 656.0,1223.2"/>
<path stroke="#000" stroke-width="16.6" d="M341.4,1252.0C342.7,1253.0 345.0,1257.3 347.9,1257.0C350.8,1256.7 353.1,1249.8 355.7,1250.6C358.3,1251.4 359.2,1256.3 361.0,1261.0C362.8,1265.7 363.1,1269.3 364.9,1274.0C366.7,1278.7 367.7,1280.4 370.0,1284.6C372.3,1288.8 373.7,1292.1 376.6,1295.0C379.5,1297.9 381.3,1299.8 384.4,1299.0C387.5,1298.2 389.4,1291.3 392.3,1291.0C395.2,1290.7 396.2,1294.7 398.8,1297.6C401.4,1300.5 402.4,1303.7 405.3,1305.5C408.2,1307.3 409.8,1304.5 413.2,1306.8C416.6,1309.1 419.2,1315.6 422.3,1317.2C425.4,1318.8 425.9,1317.2 428.8,1314.6C431.7,1312.0 433.8,1305.0 436.7,1304.2C439.6,1303.4 440.3,1309.7 443.2,1310.7C446.1,1311.7 447.3,1308.4 451.0,1309.4C454.7,1310.4 458.4,1315.6 461.5,1315.9C464.6,1316.2 464.1,1312.8 466.7,1310.7C469.3,1308.6 471.4,1306.0 474.5,1305.5C477.6,1305.0 479.2,1310.1 482.3,1308.0C485.4,1305.9 486.8,1299.2 490.2,1295.0C493.6,1290.8 495.9,1289.0 499.3,1287.2C502.7,1285.4 504.1,1285.6 507.2,1285.9C510.3,1286.2 511.9,1290.6 515.0,1288.5C518.1,1286.4 519.7,1274.2 522.8,1275.5C525.9,1276.8 527.6,1292.4 530.7,1295.0C533.8,1297.6 535.4,1288.0 538.5,1288.5C541.6,1289.0 543.4,1298.9 546.3,1297.6C549.2,1296.3 550.5,1287.5 552.8,1282.0C555.1,1276.5 555.1,1274.4 558.0,1270.2C560.9,1266.0 563.5,1262.6 567.2,1261.0C570.9,1259.4 572.9,1260.0 576.3,1262.4C579.7,1264.8 581.1,1273.1 584.2,1272.8C587.3,1272.5 588.9,1265.2 592.0,1261.0C595.1,1256.8 596.4,1258.0 599.8,1252.0C603.2,1246.0 605.6,1233.4 609.0,1231.0C612.4,1228.6 613.4,1236.8 616.8,1240.2C620.2,1243.6 622.6,1248.8 626.0,1248.0C629.4,1247.2 631.2,1241.0 633.8,1236.3C636.4,1231.6 636.1,1229.0 639.0,1224.5C641.9,1220.0 644.7,1214.3 648.1,1214.0C651.5,1213.7 654.4,1221.4 656.0,1223.2"/>
<path stroke="#000" stroke-width="12.7" d="M735.7,1208.6C737.2,1212.8 739.5,1223.6 743.0,1229.5C746.5,1235.4 748.8,1234.6 753.4,1237.9C758.0,1241.2 761.6,1242.7 766.0,1246.2C770.4,1249.7 772.1,1257.3 775.4,1255.6C778.7,1253.9 779.6,1238.9 782.7,1237.9C785.8,1236.9 787.9,1249.2 791.0,1250.4C794.1,1251.6 795.6,1241.8 798.3,1244.1C801.0,1246.4 802.3,1261.5 804.6,1261.9C806.9,1262.3 806.5,1248.3 809.8,1246.2C813.1,1244.1 817.5,1247.6 821.3,1251.4C825.1,1255.2 826.3,1259.6 828.6,1265.0C830.9,1270.4 830.5,1275.5 832.8,1278.6C835.1,1281.7 837.6,1282.4 840.1,1280.7C842.6,1279.0 843.2,1270.4 845.3,1270.2C847.4,1270.0 848.4,1279.2 850.5,1279.6C852.6,1280.0 853.5,1271.9 855.8,1272.3C858.1,1272.7 859.7,1276.1 862.0,1281.7C864.3,1287.3 864.6,1294.2 867.3,1300.5C870.0,1306.8 872.1,1310.7 875.6,1313.0C879.1,1315.3 882.5,1314.9 885.0,1312.0C887.5,1309.1 886.4,1300.7 888.1,1298.4C889.8,1296.1 891.3,1298.4 893.4,1300.5C895.5,1302.6 896.1,1310.6 898.6,1308.9C901.1,1307.2 903.0,1293.9 905.9,1292.2C908.8,1290.5 910.3,1300.9 913.2,1300.5C916.1,1300.1 917.6,1290.4 920.5,1290.0C923.4,1289.6 925.9,1294.6 927.8,1298.4C929.7,1302.2 927.8,1306.0 929.9,1308.9C932.0,1311.8 935.2,1314.0 938.3,1313.0C941.4,1312.0 942.5,1306.2 945.6,1303.7C948.7,1301.2 951.1,1302.2 954.0,1300.5C956.9,1298.8 957.7,1292.4 960.2,1295.3C962.7,1298.2 963.4,1309.0 966.5,1315.1C969.6,1321.2 972.8,1321.4 975.9,1325.6C979.0,1329.8 979.0,1332.7 982.1,1336.0C985.2,1339.3 987.7,1338.3 991.5,1342.3C995.3,1346.3 997.8,1355.3 1000.9,1355.9C1004.0,1356.5 1005.1,1348.3 1007.2,1345.4C1009.3,1342.5 1008.9,1350.7 1011.4,1341.3C1013.9,1331.9 1016.4,1317.4 1019.8,1298.4C1023.2,1279.4 1026.6,1256.6 1028.3,1246.2"/>
<path stroke="#000" stroke-width="14.0" d="M743.0,1229.5C745.1,1231.2 748.8,1234.6 753.4,1237.9C758.0,1241.2 761.6,1242.7 766.0,1246.2C770.4,1249.7 772.1,1257.3 775.4,1255.6C778.7,1253.9 779.6,1238.9 782.7,1237.9C785.8,1236.9 787.9,1249.2 791.0,1250.4C794.1,1251.6 795.6,1241.8 798.3,1244.1C801.0,1246.4 802.3,1261.5 804.6,1261.9C806.9,1262.3 806.5,1248.3 809.8,1246.2C813.1,1244.1 817.5,1247.6 821.3,1251.4C825.1,1255.2 826.3,1259.6 828.6,1265.0C830.9,1270.4 830.5,1275.5 832.8,1278.6C835.1,1281.7 837.6,1282.4 840.1,1280.7C842.6,1279.0 843.2,1270.4 845.3,1270.2C847.4,1270.0 848.4,1279.2 850.5,1279.6C852.6,1280.0 853.5,1271.9 855.8,1272.3C858.1,1272.7 859.7,1276.1 862.0,1281.7C864.3,1287.3 864.6,1294.2 867.3,1300.5C870.0,1306.8 872.1,1310.7 875.6,1313.0C879.1,1315.3 882.5,1314.9 885.0,1312.0C887.5,1309.1 886.4,1300.7 888.1,1298.4C889.8,1296.1 891.3,1298.4 893.4,1300.5C895.5,1302.6 896.1,1310.6 898.6,1308.9C901.1,1307.2 903.0,1293.9 905.9,1292.2C908.8,1290.5 910.3,1300.9 913.2,1300.5C916.1,1300.1 917.6,1290.4 920.5,1290.0C923.4,1289.6 925.9,1294.6 927.8,1298.4C929.7,1302.2 927.8,1306.0 929.9,1308.9C932.0,1311.8 935.2,1314.0 938.3,1313.0C941.4,1312.0 942.5,1306.2 945.6,1303.7C948.7,1301.2 951.1,1302.2 954.0,1300.5C956.9,1298.8 957.7,1292.4 960.2,1295.3C962.7,1298.2 963.4,1309.0 966.5,1315.1C969.6,1321.2 972.8,1321.4 975.9,1325.6C979.0,1329.8 979.0,1332.7 982.1,1336.0C985.2,1339.3 987.7,1338.3 991.5,1342.3C995.3,1346.3 997.8,1355.3 1000.9,1355.9C1004.0,1356.5 1005.1,1348.3 1007.2,1345.4C1009.3,1342.5 1008.9,1350.7 1011.4,1341.3C1013.9,1331.9 1018.1,1307.0 1019.8,1298.4"/>
<path stroke="#000" stroke-width="15.3" d="M753.4,1237.9C755.9,1239.6 761.6,1242.7 766.0,1246.2C770.4,1249.7 772.1,1257.3 775.4,1255.6C778.7,1253.9 779.6,1238.9 782.7,1237.9C785.8,1236.9 787.9,1249.2 791.0,1250.4C794.1,1251.6 795.6,1241.8 798.3,1244.1C801.0,1246.4 802.3,1261.5 804.6,1261.9C806.9,1262.3 806.5,1248.3 809.8,1246.2C813.1,1244.1 817.5,1247.6 821.3,1251.4C825.1,1255.2 826.3,1259.6 828.6,1265.0C830.9,1270.4 830.5,1275.5 832.8,1278.6C835.1,1281.7 837.6,1282.4 840.1,1280.7C842.6,1279.0 843.2,1270.4 845.3,1270.2C847.4,1270.0 848.4,1279.2 850.5,1279.6C852.6,1280.0 853.5,1271.9 855.8,1272.3C858.1,1272.7 859.7,1276.1 862.0,1281.7C864.3,1287.3 864.6,1294.2 867.3,1300.5C870.0,1306.8 872.1,1310.7 875.6,1313.0C879.1,1315.3 882.5,1314.9 885.0,1312.0C887.5,1309.1 886.4,1300.7 888.1,1298.4C889.8,1296.1 891.3,1298.4 893.4,1300.5C895.5,1302.6 896.1,1310.6 898.6,1308.9C901.1,1307.2 903.0,1293.9 905.9,1292.2C908.8,1290.5 910.3,1300.9 913.2,1300.5C916.1,1300.1 917.6,1290.4 920.5,1290.0C923.4,1289.6 925.9,1294.6 927.8,1298.4C929.7,1302.2 927.8,1306.0 929.9,1308.9C932.0,1311.8 935.2,1314.0 938.3,1313.0C941.4,1312.0 942.5,1306.2 945.6,1303.7C948.7,1301.2 951.1,1302.2 954.0,1300.5C956.9,1298.8 957.7,1292.4 960.2,1295.3C962.7,1298.2 963.4,1309.0 966.5,1315.1C969.6,1321.2 972.8,1321.4 975.9,1325.6C979.0,1329.8 979.0,1332.7 982.1,1336.0C985.2,1339.3 987.7,1338.3 991.5,1342.3C995.3,1346.3 997.8,1355.3 1000.9,1355.9C1004.0,1356.5 1005.1,1348.3 1007.2,1345.4C1009.3,1342.5 1010.6,1342.1 1011.4,1341.3"/>
<path stroke="#000" stroke-width="16.6" d="M753.4,1237.9C755.9,1239.6 761.6,1242.7 766.0,1246.2C770.4,1249.7 772.1,1257.3 775.4,1255.6C778.7,1253.9 779.6,1238.9 782.7,1237.9C785.8,1236.9 787.9,1249.2 791.0,1250.4C794.1,1251.6 795.6,1241.8 798.3,1244.1C801.0,1246.4 802.3,1261.5 804.6,1261.9C806.9,1262.3 806.5,1248.3 809.8,1246.2C813.1,1244.1 817.5,1247.6 821.3,1251.4C825.1,1255.2 826.3,1259.6 828.6,1265.0C830.9,1270.4 830.5,1275.5 832.8,1278.6C835.1,1281.7 837.6,1282.4 840.1,1280.7C842.6,1279.0 843.2,1270.4 845.3,1270.2C847.4,1270.0 848.4,1279.2 850.5,1279.6C852.6,1280.0 853.5,1271.9 855.8,1272.3C858.1,1272.7 859.7,1276.1 862.0,1281.7C864.3,1287.3 864.6,1294.2 867.3,1300.5C870.0,1306.8 872.1,1310.7 875.6,1313.0C879.1,1315.3 882.5,1314.9 885.0,1312.0C887.5,1309.1 886.4,1300.7 888.1,1298.4C889.8,1296.1 891.3,1298.4 893.4,1300.5C895.5,1302.6 896.1,1310.6 898.6,1308.9C901.1,1307.2 903.0,1293.9 905.9,1292.2C908.8,1290.5 910.3,1300.9 913.2,1300.5C916.1,1300.1 917.6,1290.4 920.5,1290.0C923.4,1289.6 925.9,1294.6 927.8,1298.4C929.7,1302.2 927.8,1306.0 929.9,1308.9C932.0,1311.8 935.2,1314.0 938.3,1313.0C941.4,1312.0 942.5,1306.2 945.6,1303.7C948.7,1301.2 951.1,1302.2 954.0,1300.5C956.9,1298.8 957.7,1292.4 960.2,1295.3C962.7,1298.2 963.4,1309.0 966.5,1315.1C969.6,1321.2 972.8,1321.4 975.9,1325.6C979.0,1329.8 979.0,1332.7 982.1,1336.0C985.2,1339.3 987.7,1338.3 991.5,1342.3C995.3,1346.3 997.8,1355.3 1000.9,1355.9C1004.0,1356.5 1005.1,1348.3 1007.2,1345.4C1009.3,1342.5 1010.6,1342.1 1011.4,1341.3"/>
<path stroke="#000" stroke-width="13.0" d="M1041.5,1216.0C1042.4,1218.7 1043.4,1219.3 1045.9,1229.5C1048.4,1239.7 1051.6,1253.6 1054.2,1267.1C1056.8,1280.6 1057.2,1284.4 1059.0,1297.0C1060.8,1309.6 1060.5,1311.0 1063.0,1330.0C1065.5,1349.0 1068.4,1370.8 1071.3,1392.0C1074.2,1413.2 1075.1,1419.4 1077.6,1436.0C1080.1,1452.6 1081.0,1459.2 1083.9,1475.0C1086.8,1490.8 1090.5,1507.0 1092.2,1515.0"/>
<path stroke="#000" stroke-width="13.8" d="M1800.0,1599.6C1807.0,1599.5 1823.9,1599.3 1835.0,1599.0C1846.1,1598.7 1851.4,1598.4 1855.5,1598.3"/>
<path fill="#000" stroke="none" d="M1079.7,1483.5L1080.9,1490.3L1082.0,1496.8L1083.3,1503.2L1084.7,1509.7L1086.3,1516.6L1088.1,1523.1L1089.7,1528.8L1091.3,1533.8L1093.0,1538.5L1094.7,1543.0L1096.7,1547.7L1098.6,1552.0L1100.2,1555.4L1101.9,1558.4L1103.6,1561.1L1105.5,1563.8L1107.8,1566.7L1110.1,1569.8L1112.4,1572.5L1114.7,1575.0L1117.3,1577.5L1120.2,1579.9L1123.7,1582.4L1127.2,1584.9L1130.6,1587.0L1134.0,1588.8L1137.6,1590.5L1141.6,1592.2L1146.2,1593.9L1150.9,1595.5L1155.4,1596.9L1159.7,1598.0L1164.2,1598.9L1169.0,1599.8L1174.4,1600.8L1180.1,1601.7L1185.6,1602.6L1190.8,1603.4L1196.0,1604.0L1201.2,1604.6L1206.4,1605.0L1211.2,1605.4L1215.1,1605.5L1218.5,1605.6L1221.6,1605.5L1224.7,1605.3L1228.6,1605.1L1232.7,1604.7L1236.3,1604.2L1239.1,1603.7L1241.7,1603.3L1244.6,1603.0L1248.6,1603.1L1253.1,1603.4L1257.6,1604.0L1262.4,1604.8L1267.5,1605.7L1273.1,1606.6L1279.3,1607.3L1285.1,1607.9L1290.0,1608.3L1294.6,1608.6L1299.3,1608.8L1304.8,1608.9L1311.4,1609.0L1318.5,1609.0L1325.2,1609.0L1331.8,1608.8L1338.5,1608.6L1345.6,1608.4L1353.5,1608.2L1361.5,1608.0L1369.2,1607.8L1376.3,1607.6L1383.1,1607.4L1389.5,1607.2L1395.6,1606.8L1400.5,1606.4L1404.1,1606.0L1406.7,1605.5L1408.7,1605.0L1410.4,1604.5L1412.5,1604.0L1414.9,1603.5L1417.1,1603.0L1419.3,1602.5L1421.5,1601.9L1423.8,1601.2L1426.3,1600.1L1428.8,1598.9L1431.1,1597.6L1432.9,1596.4L1434.5,1595.3L1436.0,1594.2L1437.7,1593.1L1439.7,1591.9L1441.6,1590.8L1443.2,1589.8L1444.7,1589.1L1446.1,1588.4L1447.5,1587.8L1448.9,1587.4L1449.7,1587.2L1450.1,1587.1L1450.5,1587.1L1451.1,1587.1L1452.2,1587.2L1453.4,1587.4L1454.2,1587.5L1454.6,1587.6L1455.0,1587.8L1455.8,1588.2L1456.9,1588.8L1458.0,1589.7L1459.0,1590.7L1460.3,1591.9L1461.8,1593.5L1463.7,1595.3L1465.8,1597.1L1467.8,1598.6L1469.7,1600.1L1471.6,1601.4L1473.7,1602.7L1476.0,1604.0L1478.4,1605.0L1480.4,1605.8L1482.2,1606.4L1484.3,1606.8L1486.3,1607.0L1488.5,1607.0L1491.7,1607.0L1495.2,1607.1L1498.0,1607.0L1500.9,1606.8L1504.9,1606.6L1510.9,1606.5L1519.9,1606.3L1530.8,1606.3L1542.2,1606.3L1554.5,1606.3L1568.0,1606.3L1583.0,1606.3L1600.0,1606.3L1617.1,1606.3L1633.1,1606.3L1648.5,1606.2L1664.3,1606.2L1681.2,1606.2L1700.0,1606.2L1719.4,1606.1L1737.7,1606.0L1754.9,1606.0L1771.0,1606.0L1786.0,1606.0L1800.0,1605.9L1811.2,1605.9L1818.7,1605.8L1823.6,1605.7L1827.2,1605.6L1830.6,1605.5L1835.2,1605.4L1840.3,1605.3L1844.6,1605.1L1848.1,1605.0L1847.6,1592.2L1844.1,1592.3L1839.9,1592.5L1834.8,1592.6L1830.2,1592.8L1826.8,1592.9L1823.3,1593.0L1818.5,1593.1L1811.1,1593.2L1800.0,1593.3L1786.0,1593.3L1771.0,1593.3L1754.9,1593.3L1737.7,1593.2L1719.4,1593.1L1700.0,1593.0L1681.2,1593.0L1664.3,1593.0L1648.5,1593.0L1633.1,1592.9L1617.1,1592.9L1600.0,1592.9L1583.1,1592.9L1568.0,1592.9L1554.5,1592.8L1542.2,1592.8L1530.7,1592.8L1519.7,1592.9L1510.6,1593.0L1504.4,1593.1L1500.3,1593.3L1497.4,1593.5L1495.0,1593.6L1491.9,1593.6L1488.7,1593.5L1486.8,1593.5L1486.0,1593.4L1485.8,1593.4L1485.1,1593.2L1483.6,1592.6L1481.9,1591.8L1480.5,1591.1L1479.2,1590.2L1477.7,1589.2L1476.0,1587.9L1474.2,1586.5L1472.6,1585.2L1471.3,1583.9L1469.9,1582.5L1468.4,1581.0L1466.6,1579.3L1464.5,1577.8L1462.6,1576.5L1460.8,1575.5L1458.9,1574.8L1457.1,1574.3L1455.4,1574.0L1453.8,1573.8L1452.1,1573.6L1450.4,1573.6L1448.5,1573.7L1446.7,1574.0L1444.9,1574.5L1442.9,1575.2L1440.7,1576.0L1438.7,1577.0L1436.8,1578.0L1434.9,1579.0L1433.0,1580.0L1430.9,1581.1L1428.6,1582.3L1426.7,1583.5L1425.1,1584.5L1423.8,1585.3L1422.4,1586.0L1420.7,1586.7L1418.9,1587.3L1417.4,1587.7L1416.0,1588.0L1414.3,1588.2L1412.2,1588.6L1409.5,1589.0L1406.9,1589.4L1405.1,1589.8L1403.8,1590.1L1402.1,1590.3L1399.2,1590.5L1394.6,1590.8L1388.8,1591.0L1382.6,1591.2L1376.0,1591.3L1368.9,1591.4L1361.3,1591.5L1353.1,1591.6L1345.2,1591.8L1338.1,1591.9L1331.4,1592.0L1325.0,1592.1L1318.5,1592.1L1311.6,1592.0L1305.2,1591.8L1300.0,1591.6L1295.5,1591.4L1291.3,1591.2L1286.6,1590.8L1281.1,1590.3L1275.4,1589.7L1270.2,1588.9L1265.2,1588.0L1260.1,1587.2L1254.8,1586.5L1249.2,1586.1L1244.0,1586.1L1239.7,1586.5L1236.2,1587.0L1233.4,1587.6L1230.7,1588.0L1227.4,1588.3L1223.8,1588.5L1220.8,1588.7L1218.2,1588.8L1215.5,1588.8L1212.2,1588.7L1207.8,1588.4L1202.8,1587.9L1197.9,1587.4L1193.0,1586.9L1188.0,1586.2L1182.8,1585.4L1177.2,1584.4L1171.8,1583.5L1167.2,1582.7L1163.1,1582.0L1159.3,1581.3L1155.4,1580.3L1151.0,1579.1L1146.8,1577.8L1143.4,1576.6L1140.4,1575.4L1137.7,1574.1L1134.9,1572.5L1131.7,1570.6L1128.8,1568.5L1126.4,1566.8L1124.5,1565.1L1122.7,1563.2L1120.7,1561.0L1118.4,1558.3L1116.3,1555.6L1114.6,1553.4L1113.3,1551.5L1112.0,1549.3L1110.6,1546.4L1108.7,1542.3L1106.7,1537.9L1105.0,1533.8L1103.3,1529.6L1101.6,1525.0L1099.9,1519.7L1098.1,1513.4L1096.3,1506.9L1094.8,1500.7L1093.4,1494.5L1092.2,1488.2L1090.8,1481.5Z"/>
</g>
<rect x="287.7" y="80.7" width="1598.1" height="1562.9" fill="none" stroke="#000" stroke-width="10.5"/>
<text transform="translate(250.00 1628.10) scale(1.0000 1.0200)" font-size="98.00" text-anchor="end">0</text>
<text transform="translate(250.00 1411.27) scale(1.0000 1.0200)" font-size="98.00" text-anchor="end">5</text>
<text transform="translate(250.00 1194.45) scale(1.0000 1.0200)" font-size="98.00" text-anchor="end">10</text>
<text transform="translate(250.00 977.62) scale(1.0000 1.0200)" font-size="98.00" text-anchor="end">15</text>
<text transform="translate(250.00 760.80) scale(1.0000 1.0200)" font-size="98.00" text-anchor="end">20</text>
<text transform="translate(250.00 543.97) scale(1.0000 1.0200)" font-size="98.00" text-anchor="end">25</text>
<text transform="translate(250.00 327.15) scale(1.0000 1.0200)" font-size="98.00" text-anchor="end">30</text>
<text transform="translate(250.00 108.62) scale(1.0000 1.0200)" font-size="98.00" text-anchor="end">35</text>
<text transform="translate(347.30 1749.30) scale(1.0000 1.0350)" font-size="84.00" text-anchor="middle">500</text>
<text transform="translate(643.34 1749.30) scale(1.0000 1.0350)" font-size="84.00" text-anchor="middle">1000</text>
<text transform="translate(939.38 1749.30) scale(1.0000 1.0350)" font-size="84.00" text-anchor="middle">1500</text>
<text transform="translate(1235.42 1749.30) scale(1.0000 1.0350)" font-size="84.00" text-anchor="middle">2000</text>
<text transform="translate(1531.46 1749.30) scale(1.0000 1.0350)" font-size="84.00" text-anchor="middle">2500</text>
<text transform="translate(1827.50 1749.30) scale(1.0000 1.0350)" font-size="84.00" text-anchor="middle">3000</text>
<text transform="translate(1061.20 1868.00)" font-size="92.00" text-anchor="middle">Energy (eV)</text>
<text transform="translate(98.50 861.20) rotate(-90)" font-size="99.00" text-anchor="middle">Yeild (counts/nC)</text>
<text transform="translate(705.30 812.00) scale(1.0000 1.0600)" font-size="84.00" text-anchor="middle">O</text>
<text transform="translate(1048.50 1201.30) scale(1.0000 0.9900)" font-size="85.00" text-anchor="middle">Si</text>
<text transform="translate(1461.00 1552.20) scale(1.0000 1.0150)" font-size="84.80" text-anchor="middle">Zn</text>
<rect x="930.3" y="137.2" width="878.0" height="858.4" fill="#fff" stroke="none"/>
<g stroke="#000" stroke-width="6.4" fill="none">
<line x1="930.3" y1="709.5" x2="968.0" y2="709.5"/>
<line x1="930.3" y1="423.3" x2="968.0" y2="423.3"/>
<line x1="930.3" y1="852.5" x2="949.5" y2="852.5"/>
<line x1="930.3" y1="566.4" x2="949.5" y2="566.4"/>
<line x1="930.3" y1="280.3" x2="949.5" y2="280.3"/>
<line x1="1105.9" y1="995.6" x2="1105.9" y2="956.4"/>
<line x1="1281.5" y1="995.6" x2="1281.5" y2="956.4"/>
<line x1="1457.1" y1="995.6" x2="1457.1" y2="956.4"/>
<line x1="1632.7" y1="995.6" x2="1632.7" y2="956.4"/>
<line x1="1018.1" y1="995.6" x2="1018.1" y2="975.4"/>
<line x1="1193.7" y1="995.6" x2="1193.7" y2="975.4"/>
<line x1="1369.3" y1="995.6" x2="1369.3" y2="975.4"/>
<line x1="1544.9" y1="995.6" x2="1544.9" y2="975.4"/>
<line x1="1720.5" y1="995.6" x2="1720.5" y2="975.4"/>
</g>
<clipPath id="ic"><rect x="930.3" y="137.2" width="878.0" height="858.4"/></clipPath>
<g fill="none" stroke-linejoin="round" stroke-linecap="butt" clip-path="url(#ic)">
<path stroke="#FD8308" stroke-width="5.2" d="M927.0,699.7C928.9,699.4 923.5,700.2 932.8,698.9C942.1,697.6 939.8,697.7 954.9,695.9C970.0,694.1 958.8,695.8 978.2,693.5C997.6,691.2 989.9,691.8 1013.2,688.9C1036.5,686.0 1026.4,686.9 1048.1,684.9C1069.8,682.9 1060.5,685.6 1078.4,683.0C1096.3,680.4 1086.2,680.7 1101.7,677.2C1117.2,673.7 1109.5,676.1 1125.0,672.6C1140.5,669.1 1132.8,671.0 1148.3,666.7C1163.8,662.4 1156.1,665.6 1171.6,659.8C1187.1,654.0 1180.8,656.7 1194.8,649.3C1208.8,641.9 1201.1,645.8 1213.5,637.6C1225.9,629.4 1219.7,634.5 1232.1,624.8C1244.5,615.1 1238.3,618.2 1250.7,608.5C1263.1,598.8 1257.0,603.5 1269.4,595.7C1281.8,587.9 1276.4,593.0 1288.0,585.2C1299.6,577.4 1293.4,579.8 1304.3,572.4C1315.2,565.0 1310.5,567.8 1320.6,563.1C1330.7,558.4 1324.5,560.0 1334.6,558.4C1344.7,556.8 1341.6,557.2 1350.9,558.4C1360.2,559.6 1356.1,559.6 1362.5,561.9C1368.9,564.2 1362.8,562.3 1370.0,565.4C1377.2,568.5 1374.7,566.9 1384.0,571.2C1393.3,575.5 1388.7,572.8 1398.0,578.2C1407.3,583.6 1402.6,580.1 1411.9,587.5C1421.2,594.9 1416.6,590.7 1425.9,600.4C1435.2,610.1 1430.6,606.2 1439.9,616.7C1449.2,627.2 1444.6,622.5 1453.9,631.8C1463.2,641.1 1458.5,636.8 1467.8,644.6C1477.1,652.4 1472.5,648.5 1481.8,655.1C1491.1,661.7 1486.5,658.2 1495.8,664.4C1505.1,670.6 1500.5,667.9 1509.8,673.7C1519.1,679.5 1514.4,677.2 1523.7,681.9C1533.0,686.6 1526.8,684.2 1537.7,687.7C1548.6,691.2 1543.9,689.3 1556.3,692.4C1568.7,695.5 1562.6,694.3 1575.0,697.0C1587.4,699.7 1581.2,698.2 1593.6,700.5C1606.0,702.8 1597.4,702.1 1612.2,704.0C1627.0,705.9 1617.7,705.5 1637.9,706.3C1658.1,707.1 1645.6,706.7 1672.8,706.3C1700.0,705.9 1692.2,705.6 1719.4,705.2C1746.6,704.8 1734.9,704.8 1754.3,705.2C1773.7,705.6 1758.4,705.2 1777.6,706.3C1796.8,707.4 1800.5,707.7 1812.0,708.4"/>
<path stroke="#000" stroke-width="4.8" d="M927.0,693.0C928.9,692.8 923.5,693.8 932.8,692.4C942.1,691.0 939.8,690.5 954.9,688.9C970.0,687.3 958.8,688.3 978.2,687.7C997.6,687.1 995.3,686.8 1013.2,687.2C1031.1,687.6 1014.7,688.1 1031.8,688.9C1048.9,689.7 1043.4,689.8 1064.4,689.6C1085.4,689.4 1076.8,690.0 1094.7,688.2C1112.6,686.4 1102.5,687.9 1118.0,684.2C1133.5,680.5 1125.8,683.0 1141.3,677.2C1156.8,671.4 1151.4,673.7 1164.6,666.7C1177.8,659.7 1171.6,662.9 1180.9,656.3C1190.2,649.7 1184.7,652.0 1192.5,646.9C1200.3,641.8 1194.9,645.4 1204.2,641.1C1213.5,636.8 1210.4,639.1 1220.5,634.1C1230.6,629.1 1222.0,632.6 1234.4,626.0C1246.8,619.4 1242.2,622.1 1257.7,614.3C1273.2,606.5 1267.8,609.7 1281.0,602.7C1294.2,595.7 1288.0,597.7 1297.3,593.4C1306.6,589.1 1302.8,590.1 1309.0,589.9C1315.2,589.7 1309.0,591.0 1316.0,592.7C1323.0,594.4 1322.1,594.8 1329.9,595.0C1337.7,595.2 1332.3,595.9 1339.3,593.4C1346.3,590.9 1343.9,589.5 1350.9,587.5C1357.9,585.5 1353.8,586.2 1360.2,587.5C1366.6,588.8 1360.5,588.4 1370.0,591.5C1379.5,594.6 1376.2,592.6 1388.6,596.9C1401.0,601.2 1398.0,599.3 1407.3,604.3C1416.6,609.3 1409.6,605.2 1416.6,612.0C1423.6,618.8 1420.4,617.4 1428.2,624.8C1436.0,632.2 1431.3,627.9 1439.9,634.1C1448.5,640.3 1444.6,636.8 1453.9,643.4C1463.2,650.0 1458.5,646.5 1467.8,653.9C1477.1,661.3 1472.5,658.6 1481.8,665.6C1491.1,672.6 1486.5,669.5 1495.8,674.9C1505.1,680.3 1500.5,676.9 1509.8,681.9C1519.1,686.9 1514.4,685.3 1523.7,690.0C1533.0,694.7 1526.8,692.4 1537.7,695.9C1548.6,699.4 1543.9,697.8 1556.3,700.5C1568.7,703.2 1559.5,702.3 1575.0,704.0C1590.5,705.7 1585.8,704.8 1602.9,705.6C1620.0,706.4 1602.9,706.1 1626.2,706.3C1649.5,706.5 1641.7,706.4 1672.8,706.3C1703.9,706.2 1694.6,706.3 1719.4,705.9C1744.2,705.5 1731.8,706.2 1747.3,705.2C1762.8,704.2 1753.6,704.0 1766.0,702.8C1778.4,701.6 1769.3,702.1 1784.6,701.7C1799.9,701.3 1802.9,701.7 1812.0,701.7"/>
</g>
<g fill="#000">
<rect x="927.5" y="134.5" width="5.4" height="864.2"/>
<rect x="1805.1" y="134.5" width="6.4" height="864.2"/>
<rect x="927.5" y="134.5" width="884.0" height="5.4"/>
<rect x="927.5" y="992.7" width="884.0" height="6.0"/>
</g>
<text transform="translate(885.50 154.80) scale(1.0000 1.0400)" font-size="60.00" text-anchor="end">2</text>
<text transform="translate(885.50 440.93) scale(1.0000 1.0400)" font-size="60.00" text-anchor="end">1</text>
<text transform="translate(885.50 727.07) scale(1.0000 1.0400)" font-size="60.00" text-anchor="end">0</text>
<text transform="translate(885.50 1013.20) scale(1.0000 1.0400)" font-size="60.00" text-anchor="end">−1</text>
<text transform="translate(929.50 1079.80) scale(1.0000 1.0400)" font-size="54.30" text-anchor="middle">2250</text>
<text transform="translate(1105.10 1079.80) scale(1.0000 1.0400)" font-size="54.30" text-anchor="middle">2300</text>
<text transform="translate(1280.70 1079.80) scale(1.0000 1.0400)" font-size="54.30" text-anchor="middle">2350</text>
<text transform="translate(1456.30 1079.80) scale(1.0000 1.0400)" font-size="54.30" text-anchor="middle">2400</text>
<text transform="translate(1631.90 1079.80) scale(1.0000 1.0400)" font-size="54.30" text-anchor="middle">2450</text>
<text transform="translate(1807.50 1079.80) scale(1.0000 1.0400)" font-size="54.30" text-anchor="middle">2500</text>
<text transform="translate(959.50 305.00) scale(1.0000 1.0150)" font-size="68.70" text-anchor="start">Si\SiO<tspan font-size="45" dy="19">2</tspan><tspan dy="-19" dx="3">\TDMAMS(1)\Zn(1)</tspan></text>
<text transform="translate(1152.50 417.60) scale(1.0000 1.0300)" font-size="69.50" text-anchor="start">0.21 Si-OH/nm<tspan font-size="44" dy="-29">2</tspan></text>
<text transform="translate(936.80 815.90) scale(1.0000 1.0050)" font-size="69.40" text-anchor="start">Si\SiO<tspan font-size="45" dy="19">2</tspan><tspan dy="-19" dx="3">\TDMAMS(10)\Zn(1)</tspan></text>
<text transform="translate(1129.50 928.10) scale(1.0000 1.0300)" font-size="69.50" text-anchor="start">0.19 Si-OH/nm<tspan font-size="44" dy="-29">2</tspan></text>
<text transform="translate(1305.80 527.60) scale(1.0000 1.0300)" font-size="69.80" text-anchor="start">Zn</text>
<g stroke="#000" stroke-width="1.4" fill="#000">
<line x1="1398.5" y1="560.0" x2="1417.9" y2="484.2"/>
<polygon stroke="none" points="1428.6,442.5 1428.1,486.8 1407.8,481.5"/>
<line x1="1349.0" y1="598.5" x2="1310.9" y2="705.3"/>
<polygon stroke="none" points="1296.4,745.8 1301.0,701.8 1320.7,708.8"/>
</g>
</svg>
</body></html>
